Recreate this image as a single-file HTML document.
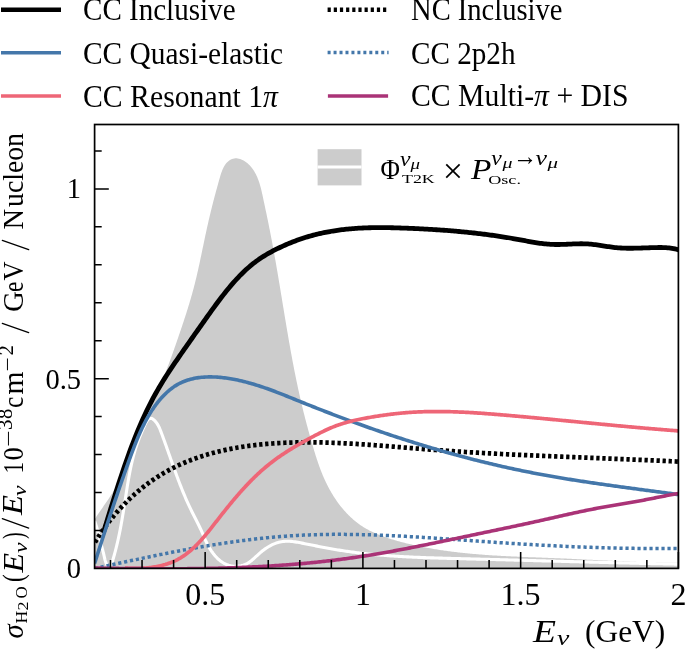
<!DOCTYPE html>
<html><head><meta charset="utf-8"><style>
html,body{margin:0;padding:0;background:#fff;}
body{width:685px;height:650px;overflow:hidden;font-family:"Liberation Serif",serif;}
svg{display:block;will-change:transform;}
</style></head><body>
<svg width="685" height="650" viewBox="0 0 685 650">
<defs><clipPath id="c"><rect x="94.6" y="124.5" width="583.8" height="443.9"/></clipPath></defs>
<g clip-path="url(#c)">
<path d="M94.54,519.46 L95.21,518.42 L95.89,517.39 L96.57,516.35 L97.26,515.32 L97.95,514.29 L98.65,513.27 L99.35,512.24 L100.06,511.22 L100.76,510.19 L101.47,509.17 L102.18,508.15 L102.89,507.13 L103.60,506.10 L104.31,505.08 L105.02,504.06 L105.73,503.04 L106.43,502.01 L107.13,500.98 L107.83,499.96 L108.52,498.92 L109.21,497.89 L109.89,496.85 L110.57,495.82 L111.24,494.77 L111.91,493.73 L112.56,492.68 L113.21,491.62 L113.85,490.56 L114.48,489.50 L115.09,488.43 L115.70,487.36 L116.30,486.28 L116.88,485.19 L117.45,484.10 L118.01,483.00 L118.55,481.89 L119.08,480.78 L119.59,479.66 L120.09,478.53 L120.58,477.40 L121.06,476.26 L121.52,475.11 L121.97,473.96 L122.41,472.80 L122.85,471.64 L123.27,470.47 L123.69,469.31 L124.10,468.13 L124.50,466.96 L124.90,465.78 L125.30,464.60 L125.69,463.42 L126.08,462.23 L126.47,461.05 L126.86,459.86 L127.24,458.67 L127.63,457.49 L128.02,456.30 L128.41,455.12 L128.81,453.93 L129.21,452.75 L129.61,451.57 L130.02,450.39 L130.43,449.22 L130.86,448.05 L131.29,446.88 L131.73,445.72 L132.17,444.56 L132.63,443.40 L133.09,442.24 L133.56,441.09 L134.03,439.94 L134.51,438.80 L135.00,437.65 L135.49,436.51 L135.99,435.38 L136.49,434.24 L137.00,433.11 L137.52,431.98 L138.04,430.85 L138.56,429.72 L139.09,428.60 L139.62,427.48 L140.15,426.35 L140.69,425.23 L141.23,424.12 L141.78,423.00 L142.33,421.88 L142.88,420.77 L143.43,419.66 L143.98,418.54 L144.54,417.43 L145.09,416.32 L145.65,415.21 L146.21,414.10 L146.77,412.99 L147.33,411.88 L147.89,410.77 L148.45,409.66 L149.01,408.55 L149.57,407.45 L150.13,406.34 L150.69,405.23 L151.24,404.12 L151.80,403.00 L152.35,401.89 L152.90,400.78 L153.45,399.67 L153.99,398.55 L154.54,397.44 L155.08,396.32 L155.61,395.20 L156.15,394.08 L156.67,392.96 L157.20,391.84 L157.72,390.71 L158.24,389.59 L158.75,388.46 L159.25,387.33 L159.76,386.19 L160.26,385.06 L160.75,383.92 L161.24,382.79 L161.73,381.65 L162.21,380.51 L162.69,379.36 L163.16,378.22 L163.63,377.08 L164.10,375.93 L164.56,374.78 L165.02,373.63 L165.48,372.48 L165.94,371.33 L166.39,370.17 L166.84,369.02 L167.28,367.86 L167.72,366.70 L168.16,365.54 L168.60,364.38 L169.04,363.22 L169.47,362.06 L169.90,360.90 L170.33,359.73 L170.76,358.57 L171.18,357.40 L171.60,356.23 L172.02,355.07 L172.44,353.90 L172.86,352.73 L173.28,351.56 L173.69,350.39 L174.10,349.22 L174.51,348.05 L174.93,346.87 L175.34,345.70 L175.74,344.53 L176.15,343.35 L176.56,342.18 L176.97,341.00 L177.37,339.83 L177.78,338.65 L178.18,337.48 L178.59,336.30 L178.99,335.12 L179.39,333.95 L179.80,332.77 L180.20,331.59 L180.60,330.41 L181.00,329.24 L181.39,328.06 L181.79,326.88 L182.19,325.70 L182.58,324.52 L182.97,323.34 L183.37,322.16 L183.76,320.98 L184.14,319.80 L184.53,318.61 L184.92,317.43 L185.30,316.25 L185.68,315.07 L186.06,313.88 L186.44,312.70 L186.81,311.51 L187.18,310.33 L187.56,309.14 L187.92,307.96 L188.29,306.77 L188.65,305.58 L189.01,304.40 L189.37,303.21 L189.73,302.02 L190.08,300.83 L190.43,299.64 L190.78,298.45 L191.12,297.26 L191.46,296.07 L191.80,294.88 L192.13,293.69 L192.46,292.49 L192.79,291.30 L193.12,290.11 L193.44,288.91 L193.76,287.72 L194.07,286.52 L194.38,285.32 L194.69,284.13 L194.99,282.93 L195.29,281.73 L195.58,280.53 L195.88,279.33 L196.16,278.13 L196.45,276.93 L196.73,275.73 L197.01,274.53 L197.29,273.32 L197.57,272.12 L197.84,270.92 L198.11,269.71 L198.38,268.50 L198.65,267.30 L198.91,266.09 L199.18,264.88 L199.44,263.67 L199.70,262.46 L199.96,261.25 L200.22,260.04 L200.47,258.82 L200.73,257.61 L200.98,256.39 L201.24,255.18 L201.49,253.96 L201.75,252.74 L202.00,251.52 L202.25,250.30 L202.51,249.08 L202.76,247.86 L203.02,246.63 L203.27,245.41 L203.53,244.18 L203.78,242.95 L204.04,241.73 L204.30,240.50 L204.55,239.27 L204.81,238.05 L205.07,236.82 L205.33,235.59 L205.60,234.37 L205.86,233.15 L206.12,231.93 L206.39,230.71 L206.65,229.49 L206.92,228.27 L207.19,227.06 L207.46,225.85 L207.73,224.65 L208.00,223.44 L208.27,222.24 L208.55,221.04 L208.82,219.85 L209.10,218.66 L209.38,217.46 L209.66,216.27 L209.94,215.08 L210.23,213.90 L210.52,212.71 L210.80,211.53 L211.09,210.34 L211.38,209.16 L211.68,207.97 L211.97,206.79 L212.27,205.60 L212.57,204.42 L212.87,203.23 L213.18,202.05 L213.48,200.86 L213.79,199.67 L214.10,198.48 L214.42,197.29 L214.73,196.09 L215.05,194.90 L215.37,193.70 L215.69,192.50 L216.02,191.29 L216.35,190.09 L216.68,188.88 L217.01,187.67 L217.35,186.45 L217.69,185.23 L218.03,184.00 L218.38,182.78 L218.72,181.54 L219.07,180.31 L219.43,179.06 L219.79,177.82 L220.15,176.57 L220.52,175.32 L220.90,174.08 L221.31,172.85 L221.73,171.63 L222.18,170.44 L222.66,169.27 L223.18,168.13 L223.73,167.03 L224.32,165.96 L224.96,164.94 L225.65,163.97 L226.40,163.05 L227.20,162.19 L228.07,161.39 L228.99,160.67 L229.96,160.02 L230.97,159.47 L232.03,159.02 L233.12,158.67 L234.24,158.44 L235.39,158.33 L236.56,158.35 L237.73,158.48 L238.92,158.72 L240.10,159.06 L241.28,159.49 L242.44,160.00 L243.58,160.59 L244.69,161.25 L245.77,161.97 L246.81,162.74 L247.80,163.56 L248.75,164.42 L249.65,165.32 L250.51,166.25 L251.33,167.22 L252.11,168.22 L252.85,169.24 L253.56,170.28 L254.22,171.34 L254.86,172.42 L255.46,173.52 L256.03,174.62 L256.57,175.73 L257.08,176.86 L257.57,178.00 L258.03,179.14 L258.46,180.29 L258.87,181.45 L259.27,182.62 L259.64,183.80 L259.99,184.98 L260.33,186.17 L260.66,187.36 L260.97,188.56 L261.27,189.76 L261.55,190.97 L261.83,192.18 L262.10,193.39 L262.37,194.61 L262.63,195.82 L262.89,197.04 L263.15,198.25 L263.41,199.47 L263.67,200.68 L263.92,201.90 L264.18,203.12 L264.44,204.33 L264.70,205.55 L264.96,206.76 L265.21,207.97 L265.47,209.19 L265.73,210.40 L265.99,211.62 L266.24,212.83 L266.50,214.05 L266.75,215.26 L267.00,216.48 L267.26,217.69 L267.51,218.91 L267.76,220.12 L268.01,221.34 L268.25,222.55 L268.50,223.77 L268.75,224.99 L268.99,226.20 L269.23,227.42 L269.47,228.64 L269.72,229.86 L269.95,231.07 L270.19,232.29 L270.43,233.51 L270.67,234.73 L270.90,235.95 L271.14,237.17 L271.37,238.39 L271.60,239.61 L271.83,240.83 L272.06,242.05 L272.29,243.27 L272.52,244.49 L272.74,245.71 L272.97,246.93 L273.19,248.15 L273.42,249.37 L273.64,250.59 L273.86,251.81 L274.09,253.03 L274.31,254.25 L274.52,255.48 L274.74,256.70 L274.96,257.92 L275.18,259.14 L275.39,260.37 L275.61,261.59 L275.82,262.81 L276.04,264.03 L276.25,265.26 L276.46,266.48 L276.67,267.70 L276.88,268.93 L277.10,270.15 L277.30,271.37 L277.51,272.60 L277.72,273.82 L277.93,275.05 L278.14,276.27 L278.34,277.49 L278.55,278.72 L278.75,279.94 L278.96,281.17 L279.16,282.39 L279.37,283.62 L279.57,284.84 L279.78,286.07 L279.98,287.29 L280.18,288.52 L280.39,289.74 L280.59,290.97 L280.79,292.19 L280.99,293.42 L281.19,294.64 L281.40,295.87 L281.60,297.09 L281.80,298.32 L282.00,299.54 L282.20,300.77 L282.40,301.99 L282.61,303.22 L282.81,304.44 L283.01,305.67 L283.21,306.89 L283.41,308.12 L283.61,309.34 L283.81,310.57 L284.02,311.79 L284.22,313.02 L284.42,314.24 L284.62,315.46 L284.83,316.69 L285.03,317.91 L285.23,319.14 L285.44,320.36 L285.64,321.59 L285.85,322.81 L286.05,324.04 L286.26,325.26 L286.46,326.48 L286.67,327.71 L286.88,328.93 L287.08,330.16 L287.29,331.38 L287.50,332.60 L287.71,333.83 L287.92,335.05 L288.13,336.27 L288.34,337.50 L288.55,338.72 L288.76,339.94 L288.98,341.17 L289.19,342.39 L289.41,343.61 L289.62,344.83 L289.84,346.05 L290.06,347.28 L290.28,348.50 L290.49,349.72 L290.71,350.94 L290.94,352.16 L291.16,353.38 L291.38,354.60 L291.61,355.82 L291.83,357.05 L292.06,358.27 L292.28,359.49 L292.51,360.71 L292.74,361.92 L292.97,363.14 L293.21,364.36 L293.44,365.58 L293.67,366.80 L293.91,368.02 L294.15,369.24 L294.39,370.46 L294.63,371.67 L294.87,372.89 L295.11,374.11 L295.36,375.32 L295.60,376.54 L295.85,377.76 L296.10,378.97 L296.35,380.19 L296.60,381.40 L296.85,382.62 L297.11,383.83 L297.37,385.05 L297.62,386.26 L297.88,387.48 L298.15,388.69 L298.41,389.90 L298.67,391.12 L298.94,392.33 L299.21,393.54 L299.48,394.75 L299.75,395.97 L300.03,397.18 L300.30,398.39 L300.58,399.60 L300.86,400.81 L301.14,402.02 L301.43,403.23 L301.71,404.44 L302.00,405.65 L302.29,406.85 L302.58,408.06 L302.88,409.27 L303.17,410.48 L303.47,411.68 L303.77,412.89 L304.07,414.09 L304.38,415.30 L304.68,416.50 L304.99,417.71 L305.30,418.91 L305.61,420.11 L305.92,421.32 L306.24,422.52 L306.56,423.72 L306.87,424.92 L307.19,426.12 L307.52,427.32 L307.84,428.52 L308.17,429.72 L308.49,430.92 L308.82,432.11 L309.15,433.31 L309.49,434.50 L309.82,435.70 L310.16,436.89 L310.50,438.09 L310.83,439.28 L311.18,440.47 L311.52,441.66 L311.86,442.85 L312.21,444.04 L312.56,445.23 L312.91,446.42 L313.26,447.61 L313.61,448.79 L313.97,449.98 L314.32,451.16 L314.68,452.35 L315.05,453.53 L315.41,454.71 L315.78,455.89 L316.16,457.07 L316.54,458.24 L316.92,459.42 L317.31,460.59 L317.70,461.76 L318.10,462.93 L318.50,464.10 L318.91,465.27 L319.33,466.43 L319.75,467.59 L320.18,468.76 L320.62,469.91 L321.06,471.07 L321.51,472.22 L321.97,473.37 L322.44,474.52 L322.92,475.67 L323.41,476.81 L323.91,477.95 L324.41,479.09 L324.93,480.22 L325.45,481.35 L325.99,482.48 L326.54,483.60 L327.09,484.73 L327.66,485.84 L328.24,486.95 L328.83,488.06 L329.43,489.16 L330.03,490.26 L330.65,491.35 L331.28,492.44 L331.92,493.52 L332.57,494.59 L333.23,495.66 L333.90,496.72 L334.58,497.78 L335.27,498.82 L335.98,499.86 L336.69,500.89 L337.41,501.91 L338.14,502.93 L338.89,503.93 L339.64,504.93 L340.41,505.91 L341.18,506.89 L341.97,507.86 L342.76,508.82 L343.57,509.76 L344.39,510.70 L345.21,511.62 L346.05,512.54 L346.90,513.44 L347.76,514.33 L348.63,515.21 L349.51,516.08 L350.40,516.93 L351.30,517.77 L352.21,518.60 L353.14,519.42 L354.07,520.22 L355.02,521.00 L355.97,521.78 L356.94,522.54 L357.91,523.28 L358.90,524.01 L359.90,524.72 L360.90,525.42 L361.92,526.10 L362.95,526.77 L363.99,527.42 L365.05,528.05 L366.11,528.67 L367.18,529.27 L368.26,529.86 L369.34,530.44 L370.44,531.00 L371.55,531.55 L372.66,532.08 L373.78,532.60 L374.91,533.11 L376.05,533.61 L377.19,534.09 L378.34,534.57 L379.49,535.03 L380.65,535.48 L381.82,535.92 L382.99,536.35 L384.16,536.78 L385.34,537.19 L386.53,537.59 L387.72,537.99 L388.91,538.38 L390.10,538.76 L391.30,539.13 L392.50,539.49 L393.70,539.85 L394.90,540.20 L396.11,540.55 L397.31,540.89 L398.52,541.23 L399.73,541.56 L400.94,541.88 L402.15,542.20 L403.35,542.52 L404.56,542.83 L405.78,543.14 L406.99,543.44 L408.20,543.74 L409.41,544.03 L410.62,544.32 L411.84,544.60 L413.05,544.88 L414.26,545.15 L415.48,545.42 L416.69,545.69 L417.91,545.95 L419.13,546.20 L420.34,546.46 L421.56,546.71 L422.78,546.95 L424.00,547.19 L425.22,547.42 L426.44,547.66 L427.66,547.88 L428.88,548.11 L430.10,548.33 L431.32,548.54 L432.54,548.76 L433.77,548.97 L434.99,549.17 L436.21,549.37 L437.44,549.57 L438.66,549.76 L439.88,549.95 L441.11,550.14 L442.34,550.32 L443.56,550.50 L444.79,550.68 L446.01,550.85 L447.24,551.02 L448.47,551.19 L449.70,551.35 L450.93,551.51 L452.15,551.67 L453.38,551.82 L454.61,551.97 L455.84,552.12 L457.07,552.27 L458.30,552.41 L459.54,552.55 L460.77,552.69 L462.00,552.82 L463.23,552.95 L464.46,553.08 L465.70,553.20 L466.93,553.33 L468.16,553.45 L469.40,553.57 L470.63,553.68 L471.86,553.80 L473.10,553.91 L474.33,554.01 L475.57,554.12 L476.80,554.22 L478.04,554.33 L479.27,554.43 L480.51,554.52 L481.75,554.62 L482.98,554.71 L484.22,554.80 L485.46,554.89 L486.70,554.98 L487.93,555.07 L489.17,555.15 L490.41,555.23 L491.65,555.31 L492.89,555.39 L494.12,555.47 L495.36,555.54 L496.60,555.62 L497.84,555.69 L499.08,555.76 L500.32,555.83 L501.56,555.90 L502.80,555.96 L504.04,556.03 L505.28,556.09 L506.52,556.16 L507.76,556.22 L509.00,556.28 L510.24,556.34 L511.48,556.40 L512.72,556.45 L513.96,556.51 L515.21,556.57 L516.45,556.62 L517.69,556.68 L518.93,556.73 L520.17,556.78 L521.41,556.83 L522.65,556.88 L523.90,556.94 L525.14,556.99 L526.38,557.04 L527.62,557.08 L528.86,557.13 L530.11,557.18 L531.35,557.23 L532.59,557.28 L533.83,557.32 L535.07,557.37 L536.32,557.42 L537.56,557.47 L538.80,557.51 L540.04,557.56 L541.28,557.61 L542.53,557.65 L543.77,557.70 L545.01,557.75 L546.25,557.80 L547.49,557.84 L548.74,557.89 L549.98,557.94 L551.22,557.99 L552.46,558.04 L553.70,558.09 L554.95,558.14 L556.19,558.19 L557.43,558.24 L558.67,558.29 L559.91,558.34 L561.15,558.39 L562.39,558.45 L563.64,558.50 L564.88,558.56 L566.12,558.61 L567.36,558.67 L568.60,558.73 L569.84,558.78 L571.08,558.84 L572.32,558.90 L573.56,558.96 L574.80,559.02 L576.04,559.08 L577.28,559.14 L578.52,559.20 L579.76,559.26 L581.00,559.32 L582.24,559.38 L583.48,559.44 L584.72,559.50 L585.96,559.56 L587.20,559.63 L588.44,559.69 L589.68,559.75 L590.92,559.81 L592.16,559.87 L593.40,559.94 L594.64,560.00 L595.88,560.06 L597.12,560.12 L598.36,560.18 L599.60,560.25 L600.84,560.31 L602.08,560.37 L603.32,560.43 L604.56,560.49 L605.79,560.55 L607.03,560.61 L608.27,560.67 L609.51,560.73 L610.75,560.79 L611.99,560.85 L613.23,560.91 L614.47,560.97 L615.71,561.02 L616.95,561.08 L618.19,561.14 L619.43,561.19 L620.67,561.25 L621.91,561.30 L623.15,561.36 L624.39,561.41 L625.63,561.46 L626.87,561.51 L628.11,561.56 L629.35,561.61 L630.59,561.66 L631.83,561.71 L633.07,561.76 L634.31,561.81 L635.55,561.85 L636.79,561.90 L638.03,561.94 L639.27,561.99 L640.51,562.03 L641.75,562.07 L642.99,562.11 L644.23,562.15 L645.47,562.18 L646.71,562.22 L647.95,562.26 L649.19,562.29 L650.43,562.32 L651.68,562.35 L652.92,562.38 L654.16,562.41 L655.40,562.44 L656.64,562.47 L657.88,562.49 L659.12,562.51 L660.37,562.54 L661.61,562.56 L662.85,562.58 L664.09,562.59 L665.33,562.61 L666.58,562.62 L667.82,562.63 L669.06,562.64 L670.31,562.65 L671.55,562.66 L672.79,562.67 L674.03,562.67 L675.28,562.67 L676.52,562.67 L677.77,562.67 L679.01,562.67 L679.01,570.40 L92.54,570.40 Z" fill="#CCCCCC"/>
<path d="M94.60,521.00 L95.06,522.26 L95.51,523.55 L95.94,524.86 L96.36,526.19 L96.76,527.54 L97.15,528.90 L97.53,530.28 L97.90,531.66 L98.26,533.04 L98.62,534.43 L98.96,535.81 L99.31,537.18 L99.65,538.55 L99.99,539.90 L100.32,541.24 L100.66,542.55 L101.00,543.84 L101.34,545.11 L101.68,546.37 L102.03,547.62 L102.37,548.90 L102.72,550.20 L103.07,551.55 L103.42,552.96 L103.77,554.44 L104.12,556.02 L104.48,557.65 L104.87,559.29 L105.30,560.88 L105.78,562.39 L106.33,563.75 L106.97,564.91 L107.70,565.82 L108.51,566.43 L109.31,566.68 L110.06,566.48 L110.70,565.83 L111.24,564.80 L111.72,563.53 L112.16,562.15 L112.59,560.76 L113.01,559.37 L113.42,557.98 L113.82,556.60 L114.21,555.21 L114.59,553.83 L114.97,552.45 L115.34,551.08 L115.69,549.70 L116.05,548.33 L116.39,546.96 L116.73,545.59 L117.05,544.22 L117.38,542.85 L117.69,541.48 L118.00,540.12 L118.30,538.75 L118.60,537.39 L118.89,536.03 L119.18,534.67 L119.46,533.31 L119.73,531.94 L120.00,530.58 L120.26,529.22 L120.53,527.86 L120.78,526.50 L121.03,525.14 L121.28,523.78 L121.52,522.42 L121.77,521.06 L122.00,519.70 L122.24,518.33 L122.47,516.97 L122.70,515.60 L122.92,514.24 L123.15,512.87 L123.37,511.51 L123.59,510.14 L123.81,508.77 L124.02,507.39 L124.24,506.02 L124.46,504.65 L124.67,503.27 L124.88,501.89 L125.10,500.51 L125.31,499.12 L125.52,497.74 L125.74,496.35 L125.95,494.96 L126.17,493.57 L126.38,492.18 L126.60,490.79 L126.82,489.40 L127.04,488.01 L127.27,486.61 L127.49,485.22 L127.72,483.83 L127.96,482.44 L128.19,481.04 L128.43,479.66 L128.68,478.27 L128.92,476.88 L129.18,475.49 L129.43,474.11 L129.69,472.73 L129.96,471.35 L130.23,469.98 L130.51,468.60 L130.80,467.24 L131.09,465.87 L131.39,464.51 L131.69,463.15 L132.00,461.80 L132.32,460.45 L132.65,459.10 L132.98,457.76 L133.33,456.43 L133.68,455.10 L134.04,453.77 L134.41,452.46 L134.79,451.15 L135.17,449.84 L135.57,448.54 L135.98,447.25 L136.40,445.97 L136.83,444.69 L137.27,443.41 L137.72,442.14 L138.19,440.87 L138.67,439.59 L139.16,438.31 L139.67,437.02 L140.19,435.72 L140.73,434.40 L141.28,433.07 L141.85,431.72 L142.44,430.35 L143.04,428.95 L143.67,427.53 L144.31,426.08 L144.97,424.62 L145.67,423.20 L146.39,421.87 L147.15,420.68 L147.94,419.67 L148.79,418.89 L149.68,418.40 L150.62,418.25 L151.62,418.44 L152.64,418.92 L153.67,419.66 L154.69,420.60 L155.66,421.69 L156.58,422.88 L157.41,424.13 L158.16,425.39 L158.83,426.66 L159.43,427.95 L159.99,429.25 L160.51,430.55 L161.01,431.86 L161.50,433.17 L161.99,434.49 L162.47,435.80 L162.95,437.11 L163.43,438.42 L163.91,439.74 L164.38,441.05 L164.86,442.37 L165.33,443.68 L165.80,445.00 L166.27,446.31 L166.73,447.63 L167.20,448.94 L167.66,450.26 L168.13,451.57 L168.59,452.89 L169.05,454.20 L169.51,455.52 L169.98,456.84 L170.44,458.15 L170.90,459.46 L171.37,460.78 L171.83,462.09 L172.30,463.41 L172.76,464.72 L173.23,466.03 L173.70,467.34 L174.17,468.65 L174.64,469.97 L175.11,471.27 L175.59,472.58 L176.07,473.89 L176.55,475.20 L177.03,476.50 L177.52,477.81 L178.01,479.11 L178.50,480.42 L178.99,481.72 L179.49,483.02 L179.99,484.32 L180.50,485.61 L181.01,486.91 L181.52,488.21 L182.04,489.50 L182.57,490.79 L183.09,492.08 L183.63,493.37 L184.16,494.66 L184.71,495.94 L185.25,497.23 L185.81,498.51 L186.37,499.79 L186.93,501.06 L187.51,502.34 L188.08,503.61 L188.67,504.88 L189.26,506.15 L189.86,507.42 L190.46,508.68 L191.07,509.95 L191.69,511.21 L192.32,512.46 L192.95,513.72 L193.59,514.97 L194.23,516.23 L194.87,517.48 L195.51,518.73 L196.14,519.98 L196.78,521.22 L197.41,522.47 L198.03,523.72 L198.65,524.97 L199.26,526.22 L199.85,527.47 L200.44,528.72 L201.01,529.98 L201.56,531.23 L202.11,532.49 L202.65,533.75 L203.19,535.00 L203.73,536.26 L204.27,537.51 L204.82,538.77 L205.38,540.02 L205.96,541.27 L206.55,542.51 L207.16,543.76 L207.80,544.99 L208.47,546.23 L209.16,547.46 L209.89,548.68 L210.66,549.89 L211.45,551.09 L212.29,552.27 L213.15,553.44 L214.05,554.57 L214.98,555.68 L215.94,556.75 L216.94,557.79 L217.97,558.79 L219.02,559.74 L220.11,560.64 L221.24,561.49 L222.39,562.29 L223.57,563.02 L224.78,563.69 L226.02,564.29 L227.29,564.81 L228.59,565.26 L229.91,565.63 L231.27,565.92 L232.64,566.13 L234.03,566.25 L235.43,566.29 L236.83,566.26 L238.23,566.15 L239.62,565.96 L241.00,565.70 L242.36,565.36 L243.69,564.95 L245.00,564.46 L246.26,563.91 L247.49,563.29 L248.66,562.59 L249.80,561.84 L250.90,561.03 L251.97,560.18 L253.02,559.29 L254.06,558.37 L255.08,557.43 L256.11,556.47 L257.14,555.51 L258.18,554.54 L259.24,553.59 L260.32,552.65 L261.43,551.73 L262.56,550.83 L263.71,549.95 L264.87,549.10 L266.06,548.28 L267.27,547.49 L268.49,546.74 L269.73,546.02 L270.98,545.34 L272.25,544.71 L273.53,544.12 L274.83,543.58 L276.13,543.09 L277.45,542.65 L278.77,542.27 L280.10,541.95 L281.44,541.69 L282.79,541.49 L284.14,541.35 L285.50,541.27 L286.86,541.24 L288.23,541.25 L289.60,541.31 L290.98,541.40 L292.35,541.54 L293.73,541.70 L295.11,541.89 L296.50,542.10 L297.88,542.34 L299.27,542.59 L300.65,542.85 L302.03,543.12 L303.42,543.39 L304.80,543.66 L306.18,543.93 L307.56,544.21 L308.93,544.48 L310.31,544.76 L311.69,545.03 L313.06,545.31 L314.44,545.58 L315.81,545.86 L317.18,546.13 L318.55,546.40 L319.93,546.67 L321.30,546.94 L322.67,547.20 L324.04,547.46 L325.41,547.73 L326.78,547.98 L328.15,548.24 L329.52,548.49 L330.90,548.74 L332.27,548.98 L333.64,549.22 L335.01,549.46 L336.39,549.69 L337.76,549.92 L339.13,550.14 L340.51,550.36 L341.89,550.58 L343.26,550.79 L344.64,550.99 L346.02,551.20 L347.39,551.39 L348.77,551.59 L350.15,551.78 L351.53,551.97 L352.91,552.15 L354.29,552.33 L355.67,552.51 L357.05,552.68 L358.43,552.85 L359.82,553.01 L361.20,553.17 L362.58,553.33 L363.97,553.48 L365.35,553.64 L366.73,553.78 L368.12,553.93 L369.50,554.07 L370.89,554.21 L372.28,554.34 L373.66,554.47 L375.05,554.60 L376.44,554.73 L377.82,554.85 L379.21,554.97 L380.60,555.09 L381.99,555.20 L383.38,555.32 L384.77,555.42 L386.16,555.53 L387.55,555.63 L388.94,555.74 L390.33,555.83 L391.72,555.93 L393.11,556.02 L394.50,556.12 L395.89,556.21 L397.28,556.29 L398.68,556.38 L400.07,556.46 L401.46,556.54 L402.86,556.62 L404.25,556.70 L405.64,556.77 L407.04,556.84 L408.43,556.91 L409.82,556.98 L411.22,557.05 L412.61,557.11 L414.01,557.18 L415.40,557.24 L416.80,557.30 L418.19,557.36 L419.59,557.42 L420.98,557.47 L422.38,557.53 L423.77,557.58 L425.17,557.63 L426.57,557.68 L427.96,557.73 L429.36,557.78 L430.75,557.83 L432.15,557.87 L433.55,557.92 L434.94,557.96 L436.34,558.01 L437.74,558.05 L439.13,558.09 L440.53,558.13 L441.93,558.17 L443.32,558.21 L444.72,558.25 L446.12,558.29 L447.51,558.33 L448.91,558.37 L450.31,558.40 L451.70,558.44 L453.10,558.48 L454.50,558.51 L455.89,558.55 L457.29,558.58 L458.69,558.62 L460.08,558.65 L461.48,558.69 L462.88,558.72 L464.27,558.76 L465.67,558.79 L467.06,558.83 L468.46,558.87 L469.86,558.90 L471.25,558.94 L472.65,558.97 L474.04,559.01 L475.44,559.05 L476.83,559.08 L478.23,559.12 L479.63,559.15 L481.02,559.19 L482.42,559.23 L483.81,559.26 L485.21,559.30 L486.60,559.34 L488.00,559.37 L489.39,559.41 L490.79,559.45 L492.18,559.48 L493.58,559.52 L494.97,559.56 L496.36,559.59 L497.76,559.63 L499.15,559.67 L500.55,559.70 L501.94,559.74 L503.34,559.78 L504.73,559.82 L506.13,559.85 L507.52,559.89 L508.91,559.93 L510.31,559.97 L511.70,560.00 L513.10,560.04 L514.49,560.08 L515.88,560.12 L517.28,560.15 L518.67,560.19 L520.07,560.23 L521.46,560.27 L522.85,560.30 L524.25,560.34 L525.64,560.38 L527.03,560.42 L528.43,560.45 L529.82,560.49 L531.21,560.53 L532.61,560.57 L534.00,560.60 L535.39,560.64 L536.79,560.68 L538.18,560.72 L539.57,560.75 L540.97,560.79 L542.36,560.83 L543.75,560.87 L545.15,560.91 L546.54,560.94 L547.93,560.98 L549.33,561.02 L550.72,561.06 L552.11,561.09 L553.51,561.13 L554.90,561.17 L556.29,561.20 L557.69,561.24 L559.08,561.28 L560.47,561.32 L561.87,561.35 L563.26,561.39 L564.65,561.43 L566.05,561.47 L567.44,561.50 L568.83,561.54 L570.23,561.58 L571.62,561.61 L573.01,561.65 L574.41,561.69 L575.80,561.72 L577.19,561.76 L578.59,561.80 L579.98,561.83 L581.37,561.87 L582.77,561.91 L584.16,561.94 L585.55,561.98 L586.95,562.02 L588.34,562.05 L589.73,562.09 L591.13,562.12 L592.52,562.16 L593.91,562.20 L595.31,562.23 L596.70,562.27 L598.10,562.30 L599.49,562.34 L600.88,562.37 L602.28,562.41 L603.67,562.45 L605.06,562.48 L606.46,562.52 L607.85,562.55 L609.25,562.59 L610.64,562.62 L612.03,562.66 L613.43,562.69 L614.82,562.72 L616.22,562.76 L617.61,562.79 L619.00,562.83 L620.40,562.86 L621.79,562.90 L623.19,562.93 L624.58,562.96 L625.98,563.00 L627.37,563.03 L628.77,563.06 L630.16,563.10 L631.56,563.13 L632.95,563.16 L634.35,563.20 L635.74,563.23 L637.14,563.26 L638.53,563.29 L639.93,563.33 L641.32,563.36 L642.72,563.39 L644.11,563.42 L645.51,563.45 L646.90,563.48 L648.30,563.52 L649.69,563.55 L651.09,563.58 L652.49,563.61 L653.88,563.64 L655.28,563.67 L656.67,563.70 L658.07,563.73 L659.47,563.76 L660.86,563.79 L662.26,563.82 L663.65,563.85 L665.05,563.88 L666.45,563.91 L667.85,563.94 L669.24,563.97 L670.64,564.00 L672.04,564.03 L673.43,564.05 L674.83,564.08 L676.23,564.11 L677.63,564.14 L679.02,564.17" fill="none" stroke="#fff" stroke-width="3.1" stroke-linejoin="round"/>
<path d="M103.30,532.79 L104.80,527.96 L106.30,523.11 L107.80,518.26 L109.30,513.40 L110.80,508.56 L112.30,503.73 L113.80,498.93 L115.30,494.17 L116.80,489.45 L118.31,484.78 L119.81,480.17 L121.31,475.64 L122.81,471.17 L124.31,466.77 L125.81,462.45 L127.31,458.20 L128.81,454.03 L130.31,449.93 L131.81,445.92 L133.31,441.99 L134.81,438.14 L136.31,434.38 L137.81,430.70 L139.31,427.11 L140.81,423.61 L142.31,420.20 L143.81,416.88 L145.31,413.65 L146.82,410.51 L148.32,407.44 L149.82,404.46 L151.32,401.55 L152.82,398.72 L154.32,395.95 L155.82,393.24 L157.32,390.59 L158.82,388.01 L160.32,385.47 L161.82,382.98 L163.32,380.54 L164.82,378.14 L166.32,375.78 L167.82,373.46 L169.32,371.16 L170.82,368.89 L172.32,366.65 L173.82,364.42 L175.32,362.22 L176.83,360.02 L178.33,357.84 L179.83,355.66 L181.33,353.50 L182.83,351.34 L184.33,349.18 L185.83,347.04 L187.33,344.90 L188.83,342.76 L190.33,340.63 L191.83,338.50 L193.33,336.37 L194.83,334.24 L196.33,332.12 L197.83,330.00 L199.33,327.87 L200.83,325.75 L202.33,323.62 L203.83,321.50 L205.34,319.38 L206.84,317.26 L208.34,315.15 L209.84,313.05 L211.34,310.96 L212.84,308.89 L214.34,306.83 L215.84,304.78 L217.34,302.75 L218.84,300.74 L220.34,298.76 L221.84,296.80 L223.34,294.86 L224.84,292.95 L226.34,291.07 L227.84,289.22 L229.34,287.41 L230.84,285.62 L232.34,283.88 L233.85,282.17 L235.35,280.50 L236.85,278.87 L238.35,277.27 L239.85,275.71 L241.35,274.20 L242.85,272.72 L244.35,271.27 L245.85,269.87 L247.35,268.51 L248.85,267.19 L250.35,265.91 L251.85,264.66 L253.35,263.46 L254.85,262.30 L256.35,261.18 L257.85,260.10 L259.35,259.05 L260.85,258.04 L262.36,257.06 L263.86,256.12 L265.36,255.20 L266.86,254.31 L268.36,253.45 L269.86,252.61 L271.36,251.79 L272.86,250.99 L274.36,250.22 L275.86,249.46 L277.36,248.71 L278.86,247.98 L280.36,247.27 L281.86,246.56 L283.36,245.88 L284.86,245.21 L286.36,244.55 L287.86,243.90 L289.36,243.27 L290.86,242.66 L292.37,242.06 L293.87,241.47 L295.37,240.90 L296.87,240.34 L298.37,239.80 L299.87,239.27 L301.37,238.76 L302.87,238.26 L304.37,237.78 L305.87,237.31 L307.37,236.85 L308.87,236.40 L310.37,235.97 L311.87,235.56 L313.37,235.15 L314.87,234.76 L316.37,234.38 L317.87,234.02 L319.37,233.66 L320.88,233.32 L322.38,232.99 L323.88,232.68 L325.38,232.37 L326.88,232.08 L328.38,231.79 L329.88,231.52 L331.38,231.26 L332.88,231.01 L334.38,230.77 L335.88,230.54 L337.38,230.32 L338.88,230.12 L340.38,229.92 L341.88,229.73 L343.38,229.55 L344.88,229.38 L346.38,229.22 L347.88,229.06 L349.39,228.92 L350.89,228.78 L352.39,228.66 L353.89,228.54 L355.39,228.43 L356.89,228.33 L358.39,228.23 L359.89,228.14 L361.39,228.06 L362.89,227.99 L364.39,227.93 L365.89,227.87 L367.39,227.82 L368.89,227.77 L370.39,227.73 L371.89,227.70 L373.39,227.67 L374.89,227.65 L376.39,227.63 L377.90,227.62 L379.40,227.62 L380.90,227.61 L382.40,227.62 L383.90,227.63 L385.40,227.64 L386.90,227.66 L388.40,227.68 L389.90,227.71 L391.40,227.74 L392.90,227.77 L394.40,227.81 L395.90,227.85 L397.40,227.89 L398.90,227.93 L400.40,227.98 L401.90,228.03 L403.40,228.09 L404.90,228.14 L406.40,228.20 L407.91,228.26 L409.41,228.32 L410.91,228.38 L412.41,228.45 L413.91,228.51 L415.41,228.58 L416.91,228.65 L418.41,228.72 L419.91,228.79 L421.41,228.87 L422.91,228.95 L424.41,229.03 L425.91,229.11 L427.41,229.19 L428.91,229.28 L430.41,229.37 L431.91,229.46 L433.41,229.55 L434.91,229.64 L436.42,229.74 L437.92,229.84 L439.42,229.94 L440.92,230.04 L442.42,230.15 L443.92,230.26 L445.42,230.37 L446.92,230.48 L448.42,230.60 L449.92,230.72 L451.42,230.84 L452.92,230.96 L454.42,231.09 L455.92,231.22 L457.42,231.35 L458.92,231.49 L460.42,231.63 L461.92,231.77 L463.42,231.91 L464.93,232.06 L466.43,232.21 L467.93,232.36 L469.43,232.52 L470.93,232.68 L472.43,232.84 L473.93,233.00 L475.43,233.17 L476.93,233.34 L478.43,233.52 L479.93,233.70 L481.43,233.88 L482.93,234.06 L484.43,234.25 L485.93,234.44 L487.43,234.64 L488.93,234.84 L490.43,235.04 L491.93,235.25 L493.44,235.45 L494.94,235.67 L496.44,235.88 L497.94,236.10 L499.44,236.33 L500.94,236.56 L502.44,236.79 L503.94,237.02 L505.44,237.26 L506.94,237.51 L508.44,237.75 L509.94,238.00 L511.44,238.26 L512.94,238.52 L514.44,238.78 L515.94,239.05 L517.44,239.32 L518.94,239.60 L520.44,239.88 L521.94,240.16 L523.45,240.44 L524.95,240.72 L526.45,241.00 L527.95,241.28 L529.45,241.55 L530.95,241.82 L532.45,242.08 L533.95,242.33 L535.45,242.58 L536.95,242.82 L538.45,243.04 L539.95,243.26 L541.45,243.46 L542.95,243.64 L544.45,243.81 L545.95,243.97 L547.45,244.11 L548.95,244.23 L550.45,244.32 L551.96,244.40 L553.46,244.46 L554.96,244.49 L556.46,244.50 L557.96,244.50 L559.46,244.48 L560.96,244.45 L562.46,244.41 L563.96,244.36 L565.46,244.30 L566.96,244.23 L568.46,244.17 L569.96,244.10 L571.46,244.03 L572.96,243.97 L574.46,243.91 L575.96,243.86 L577.46,243.82 L578.96,243.79 L580.47,243.77 L581.97,243.77 L583.47,243.79 L584.97,243.83 L586.47,243.89 L587.97,243.97 L589.47,244.08 L590.97,244.21 L592.47,244.36 L593.97,244.53 L595.47,244.72 L596.97,244.92 L598.47,245.13 L599.97,245.35 L601.47,245.58 L602.97,245.81 L604.47,246.04 L605.97,246.28 L607.47,246.51 L608.98,246.74 L610.48,246.96 L611.98,247.16 L613.48,247.35 L614.98,247.52 L616.48,247.68 L617.98,247.81 L619.48,247.92 L620.98,248.01 L622.48,248.09 L623.98,248.15 L625.48,248.20 L626.98,248.23 L628.48,248.25 L629.98,248.26 L631.48,248.25 L632.98,248.24 L634.48,248.22 L635.98,248.19 L637.48,248.15 L638.99,248.11 L640.49,248.07 L641.99,248.01 L643.49,247.96 L644.99,247.91 L646.49,247.85 L647.99,247.80 L649.49,247.75 L650.99,247.70 L652.49,247.65 L653.99,247.61 L655.49,247.57 L656.99,247.54 L658.49,247.52 L659.99,247.51 L661.49,247.52 L662.99,247.54 L664.49,247.59 L665.99,247.66 L667.50,247.77 L669.00,247.91 L670.50,248.09 L672.00,248.31 L673.50,248.57 L675.00,248.89 L676.50,249.25 L678.00,249.68 L679.50,250.16 L681.00,250.71" fill="none" stroke="#000" stroke-width="4.8" stroke-linejoin="round"/>
<path d="M94.95,542.38 L95.61,541.29 L96.28,540.20 L96.95,539.12 L97.63,538.04 L98.31,536.97 L99.00,535.90 L99.70,534.83 L100.40,533.77 L101.11,532.71 L101.83,531.66 L102.55,530.61 L103.28,529.57 L104.01,528.53 L104.75,527.50 L105.50,526.47 L106.25,525.44 L107.01,524.42 L107.77,523.41 L108.54,522.40 L109.32,521.39 L110.10,520.39 L110.89,519.40 L111.68,518.41 L112.48,517.42 L113.29,516.45 L114.10,515.47 L114.91,514.50 L115.74,513.54 L116.56,512.58 L117.39,511.63 L118.23,510.68 L119.08,509.74 L119.92,508.81 L120.78,507.88 L121.64,506.95 L122.50,506.03 L123.37,505.12 L124.25,504.22 L125.13,503.32 L126.01,502.42 L126.90,501.53 L127.80,500.65 L128.70,499.78 L129.61,498.91 L130.52,498.04 L131.43,497.19 L132.35,496.33 L133.28,495.49 L134.21,494.65 L135.14,493.82 L136.08,493.00 L137.03,492.18 L137.97,491.37 L138.93,490.57 L139.89,489.77 L140.85,488.98 L141.82,488.19 L142.79,487.42 L143.76,486.65 L144.74,485.89 L145.73,485.13 L146.72,484.38 L147.71,483.64 L148.71,482.91 L149.71,482.18 L150.72,481.46 L151.73,480.75 L152.74,480.05 L153.76,479.35 L154.78,478.66 L155.81,477.98 L156.84,477.31 L157.87,476.65 L158.91,475.99 L159.96,475.34 L161.00,474.70 L162.05,474.06 L163.10,473.44 L164.16,472.82 L165.22,472.21 L166.29,471.61 L167.36,471.01 L168.43,470.42 L169.50,469.85 L170.58,469.27 L171.66,468.71 L172.75,468.15 L173.84,467.60 L174.93,467.06 L176.03,466.53 L177.13,466.00 L178.23,465.48 L179.33,464.97 L180.44,464.46 L181.56,463.96 L182.67,463.47 L183.79,462.98 L184.91,462.51 L186.03,462.04 L187.16,461.57 L188.29,461.12 L189.42,460.67 L190.56,460.22 L191.70,459.79 L192.84,459.36 L193.98,458.93 L195.13,458.52 L196.28,458.10 L197.43,457.70 L198.58,457.30 L199.74,456.91 L200.90,456.53 L202.06,456.15 L203.23,455.78 L204.39,455.41 L205.56,455.05 L206.74,454.70 L207.91,454.35 L209.09,454.01 L210.26,453.67 L211.44,453.35 L212.63,453.02 L213.81,452.70 L215.00,452.39 L216.19,452.09 L217.38,451.79 L218.57,451.49 L219.77,451.20 L220.96,450.92 L222.16,450.64 L223.36,450.37 L224.56,450.10 L225.77,449.84 L226.97,449.58 L228.18,449.33 L229.39,449.09 L230.60,448.85 L231.81,448.61 L233.02,448.38 L234.24,448.16 L235.45,447.94 L236.67,447.72 L237.89,447.51 L239.11,447.31 L240.33,447.11 L241.56,446.91 L242.78,446.72 L244.01,446.54 L245.23,446.35 L246.46,446.18 L247.69,446.01 L248.92,445.84 L250.15,445.68 L251.38,445.52 L252.61,445.36 L253.85,445.21 L255.08,445.07 L256.32,444.93 L257.55,444.79 L258.79,444.66 L260.03,444.53 L261.27,444.41 L262.50,444.29 L263.74,444.17 L264.98,444.06 L266.22,443.95 L267.47,443.85 L268.71,443.75 L269.95,443.65 L271.19,443.56 L272.43,443.47 L273.68,443.38 L274.92,443.30 L276.16,443.22 L277.41,443.15 L278.65,443.07 L279.89,443.01 L281.14,442.94 L282.38,442.88 L283.63,442.82 L284.87,442.77 L286.11,442.72 L287.36,442.67 L288.60,442.62 L289.84,442.58 L291.09,442.54 L292.33,442.51 L293.57,442.47 L294.82,442.44 L296.06,442.42 L297.30,442.39 L298.55,442.37 L299.79,442.35 L301.03,442.34 L302.27,442.32 L303.51,442.31 L304.76,442.31 L306.00,442.30 L307.24,442.30 L308.48,442.30 L309.72,442.30 L310.96,442.31 L312.20,442.31 L313.44,442.32 L314.69,442.34 L315.93,442.35 L317.17,442.37 L318.41,442.39 L319.65,442.41 L320.89,442.44 L322.13,442.46 L323.37,442.49 L324.61,442.52 L325.85,442.55 L327.09,442.59 L328.33,442.63 L329.56,442.67 L330.80,442.71 L332.04,442.75 L333.28,442.79 L334.52,442.84 L335.76,442.89 L337.00,442.94 L338.24,442.99 L339.48,443.05 L340.71,443.10 L341.95,443.16 L343.19,443.22 L344.43,443.28 L345.67,443.34 L346.90,443.41 L348.14,443.47 L349.38,443.54 L350.62,443.61 L351.86,443.68 L353.09,443.75 L354.33,443.82 L355.57,443.90 L356.80,443.97 L358.04,444.05 L359.28,444.13 L360.52,444.21 L361.75,444.29 L362.99,444.37 L364.23,444.45 L365.46,444.53 L366.70,444.62 L367.94,444.70 L369.17,444.79 L370.41,444.88 L371.65,444.97 L372.88,445.06 L374.12,445.15 L375.36,445.24 L376.59,445.33 L377.83,445.42 L379.07,445.51 L380.30,445.61 L381.54,445.70 L382.77,445.80 L384.01,445.89 L385.25,445.99 L386.48,446.09 L387.72,446.18 L388.95,446.28 L390.19,446.38 L391.42,446.48 L392.66,446.58 L393.90,446.68 L395.13,446.78 L396.37,446.87 L397.60,446.97 L398.84,447.07 L400.07,447.17 L401.31,447.28 L402.55,447.38 L403.78,447.48 L405.02,447.58 L406.25,447.68 L407.49,447.78 L408.72,447.88 L409.96,447.98 L411.19,448.08 L412.43,448.18 L413.67,448.28 L414.90,448.38 L416.14,448.48 L417.37,448.57 L418.61,448.67 L419.84,448.77 L421.08,448.87 L422.31,448.97 L423.55,449.06 L424.78,449.16 L426.02,449.25 L427.26,449.35 L428.49,449.44 L429.73,449.54 L430.96,449.63 L432.20,449.72 L433.43,449.82 L434.67,449.91 L435.90,450.00 L437.14,450.09 L438.38,450.18 L439.61,450.26 L440.85,450.35 L442.08,450.44 L443.32,450.53 L444.55,450.61 L445.79,450.70 L447.03,450.78 L448.26,450.87 L449.50,450.95 L450.73,451.03 L451.97,451.12 L453.20,451.20 L454.44,451.28 L455.68,451.36 L456.91,451.44 L458.15,451.52 L459.38,451.60 L460.62,451.68 L461.86,451.75 L463.09,451.83 L464.33,451.91 L465.56,451.98 L466.80,452.06 L468.04,452.13 L469.27,452.21 L470.51,452.28 L471.74,452.36 L472.98,452.43 L474.22,452.50 L475.45,452.57 L476.69,452.65 L477.92,452.72 L479.16,452.79 L480.40,452.86 L481.63,452.93 L482.87,453.00 L484.11,453.07 L485.34,453.13 L486.58,453.20 L487.81,453.27 L489.05,453.34 L490.29,453.40 L491.52,453.47 L492.76,453.53 L494.00,453.60 L495.23,453.66 L496.47,453.73 L497.71,453.79 L498.94,453.86 L500.18,453.92 L501.41,453.98 L502.65,454.05 L503.89,454.11 L505.12,454.17 L506.36,454.23 L507.60,454.29 L508.83,454.35 L510.07,454.41 L511.31,454.47 L512.54,454.53 L513.78,454.59 L515.02,454.65 L516.25,454.71 L517.49,454.77 L518.73,454.83 L519.96,454.88 L521.20,454.94 L522.44,455.00 L523.67,455.05 L524.91,455.11 L526.15,455.17 L527.38,455.22 L528.62,455.28 L529.86,455.33 L531.09,455.39 L532.33,455.44 L533.57,455.50 L534.81,455.55 L536.04,455.61 L537.28,455.66 L538.52,455.72 L539.75,455.77 L540.99,455.82 L542.23,455.88 L543.46,455.93 L544.70,455.98 L545.94,456.03 L547.18,456.09 L548.41,456.14 L549.65,456.19 L550.89,456.24 L552.12,456.29 L553.36,456.34 L554.60,456.40 L555.84,456.45 L557.07,456.50 L558.31,456.55 L559.55,456.60 L560.78,456.65 L562.02,456.70 L563.26,456.75 L564.50,456.80 L565.73,456.85 L566.97,456.90 L568.21,456.95 L569.45,457.00 L570.68,457.05 L571.92,457.10 L573.16,457.15 L574.40,457.20 L575.63,457.25 L576.87,457.30 L578.11,457.35 L579.35,457.39 L580.58,457.44 L581.82,457.49 L583.06,457.54 L584.30,457.59 L585.53,457.64 L586.77,457.69 L588.01,457.74 L589.25,457.79 L590.48,457.83 L591.72,457.88 L592.96,457.93 L594.20,457.98 L595.44,458.03 L596.67,458.08 L597.91,458.13 L599.15,458.18 L600.39,458.23 L601.62,458.27 L602.86,458.32 L604.10,458.37 L605.34,458.42 L606.58,458.47 L607.81,458.52 L609.05,458.57 L610.29,458.62 L611.53,458.67 L612.77,458.72 L614.00,458.77 L615.24,458.82 L616.48,458.87 L617.72,458.92 L618.96,458.97 L620.19,459.02 L621.43,459.07 L622.67,459.12 L623.91,459.17 L625.15,459.22 L626.39,459.27 L627.62,459.32 L628.86,459.37 L630.10,459.42 L631.34,459.48 L632.58,459.53 L633.82,459.58 L635.05,459.63 L636.29,459.68 L637.53,459.74 L638.77,459.79 L640.01,459.84 L641.25,459.89 L642.48,459.95 L643.72,460.00 L644.96,460.05 L646.20,460.11 L647.44,460.16 L648.68,460.22 L649.92,460.27 L651.15,460.33 L652.39,460.38 L653.63,460.44 L654.87,460.49 L656.11,460.55 L657.35,460.60 L658.59,460.66 L659.82,460.72 L661.06,460.77 L662.30,460.83 L663.54,460.89 L664.78,460.95 L666.02,461.01 L667.26,461.06 L668.50,461.12 L669.73,461.18 L670.97,461.24 L672.21,461.30 L673.45,461.36 L674.69,461.42 L675.93,461.48 L677.17,461.54 L678.41,461.61" fill="none" stroke="#000" stroke-width="4.7" stroke-dasharray="3.3 2.73"/>
<path d="M94.56,563.49 L95.02,562.06 L95.48,560.63 L95.93,559.21 L96.39,557.79 L96.84,556.38 L97.29,554.97 L97.74,553.56 L98.19,552.15 L98.64,550.75 L99.09,549.35 L99.54,547.96 L99.99,546.57 L100.44,545.18 L100.88,543.79 L101.33,542.41 L101.77,541.03 L102.22,539.65 L102.66,538.27 L103.11,536.90 L103.55,535.53 L103.99,534.16 L104.44,532.79 L104.88,531.43 L105.32,530.06 L105.77,528.70 L106.21,527.35 L106.65,525.99 L107.09,524.63 L107.54,523.28 L107.98,521.93 L108.42,520.58 L108.87,519.23 L109.31,517.88 L109.75,516.53 L110.20,515.19 L110.64,513.84 L111.09,512.50 L111.53,511.15 L111.98,509.81 L112.43,508.47 L112.88,507.13 L113.32,505.79 L113.77,504.44 L114.22,503.10 L114.67,501.76 L115.12,500.42 L115.58,499.08 L116.03,497.74 L116.48,496.40 L116.94,495.06 L117.40,493.72 L117.85,492.38 L118.31,491.04 L118.77,489.70 L119.23,488.35 L119.69,487.01 L120.16,485.67 L120.62,484.32 L121.09,482.97 L121.56,481.63 L122.03,480.28 L122.50,478.93 L122.97,477.58 L123.45,476.23 L123.92,474.87 L124.40,473.52 L124.88,472.16 L125.36,470.80 L125.85,469.44 L126.33,468.07 L126.82,466.71 L127.31,465.34 L127.80,463.97 L128.29,462.60 L128.79,461.23 L129.29,459.85 L129.79,458.47 L130.29,457.09 L130.80,455.71 L131.31,454.33 L131.82,452.94 L132.33,451.56 L132.86,450.17 L133.38,448.79 L133.91,447.40 L134.45,446.02 L134.99,444.64 L135.53,443.26 L136.09,441.88 L136.64,440.50 L137.21,439.13 L137.78,437.76 L138.36,436.40 L138.95,435.03 L139.54,433.68 L140.14,432.32 L140.76,430.97 L141.38,429.63 L142.00,428.29 L142.64,426.96 L143.29,425.64 L143.95,424.32 L144.61,423.01 L145.29,421.71 L145.98,420.41 L146.68,419.12 L147.39,417.84 L148.12,416.58 L148.85,415.32 L149.60,414.07 L150.36,412.83 L151.13,411.60 L151.92,410.38 L152.72,409.17 L153.53,407.98 L154.36,406.79 L155.20,405.62 L156.06,404.46 L156.93,403.32 L157.82,402.19 L158.72,401.07 L159.64,399.96 L160.58,398.88 L161.53,397.80 L162.50,396.75 L163.48,395.71 L164.48,394.69 L165.49,393.70 L166.52,392.72 L167.57,391.77 L168.63,390.84 L169.71,389.94 L170.81,389.07 L171.92,388.22 L173.05,387.40 L174.19,386.61 L175.35,385.85 L176.53,385.12 L177.72,384.42 L178.93,383.76 L180.15,383.13 L181.39,382.54 L182.64,381.98 L183.91,381.45 L185.19,380.96 L186.49,380.50 L187.79,380.06 L189.11,379.66 L190.45,379.29 L191.79,378.95 L193.14,378.63 L194.51,378.35 L195.88,378.09 L197.27,377.86 L198.66,377.65 L200.06,377.48 L201.47,377.32 L202.88,377.19 L204.30,377.09 L205.73,377.01 L207.16,376.95 L208.60,376.92 L210.05,376.91 L211.50,376.92 L212.95,376.95 L214.40,377.00 L215.86,377.07 L217.32,377.16 L218.78,377.26 L220.24,377.39 L221.71,377.53 L223.17,377.69 L224.63,377.87 L226.09,378.06 L227.55,378.27 L229.01,378.50 L230.47,378.73 L231.92,378.98 L233.37,379.25 L234.82,379.52 L236.26,379.81 L237.70,380.11 L239.13,380.42 L240.56,380.74 L241.98,381.08 L243.40,381.42 L244.81,381.77 L246.22,382.13 L247.63,382.51 L249.03,382.89 L250.43,383.28 L251.82,383.68 L253.21,384.08 L254.60,384.50 L255.98,384.92 L257.36,385.35 L258.74,385.79 L260.11,386.24 L261.48,386.69 L262.85,387.15 L264.21,387.62 L265.58,388.09 L266.94,388.57 L268.30,389.05 L269.65,389.54 L271.00,390.03 L272.35,390.53 L273.70,391.04 L275.05,391.55 L276.40,392.06 L277.74,392.57 L279.08,393.09 L280.42,393.61 L281.76,394.14 L283.10,394.67 L284.44,395.20 L285.78,395.73 L287.11,396.27 L288.45,396.80 L289.78,397.34 L291.12,397.88 L292.45,398.42 L293.78,398.96 L295.12,399.50 L296.45,400.05 L297.79,400.59 L299.12,401.13 L300.45,401.67 L301.79,402.21 L303.12,402.75 L304.46,403.28 L305.79,403.82 L307.13,404.36 L308.47,404.89 L309.81,405.42 L311.14,405.95 L312.48,406.49 L313.82,407.02 L315.16,407.54 L316.50,408.07 L317.84,408.60 L319.18,409.12 L320.53,409.65 L321.87,410.17 L323.21,410.69 L324.55,411.21 L325.90,411.73 L327.24,412.25 L328.59,412.77 L329.93,413.28 L331.28,413.80 L332.62,414.31 L333.97,414.82 L335.32,415.34 L336.67,415.85 L338.02,416.35 L339.36,416.86 L340.71,417.37 L342.06,417.87 L343.41,418.38 L344.76,418.88 L346.12,419.38 L347.47,419.88 L348.82,420.38 L350.17,420.88 L351.53,421.37 L352.88,421.87 L354.23,422.36 L355.59,422.85 L356.94,423.35 L358.30,423.84 L359.66,424.32 L361.01,424.81 L362.37,425.30 L363.73,425.78 L365.09,426.26 L366.45,426.75 L367.81,427.23 L369.16,427.70 L370.53,428.18 L371.89,428.66 L373.25,429.13 L374.61,429.61 L375.97,430.08 L377.33,430.55 L378.70,431.02 L380.06,431.49 L381.43,431.95 L382.79,432.42 L384.16,432.88 L385.52,433.34 L386.89,433.80 L388.25,434.26 L389.62,434.72 L390.99,435.18 L392.36,435.63 L393.72,436.09 L395.09,436.54 L396.46,436.99 L397.83,437.44 L399.20,437.88 L400.58,438.33 L401.95,438.77 L403.32,439.22 L404.69,439.66 L406.06,440.10 L407.44,440.54 L408.81,440.97 L410.19,441.41 L411.56,441.84 L412.94,442.27 L414.31,442.71 L415.69,443.13 L417.06,443.56 L418.44,443.99 L419.82,444.41 L421.20,444.83 L422.58,445.26 L423.96,445.67 L425.33,446.09 L426.71,446.51 L428.10,446.92 L429.48,447.34 L430.86,447.75 L432.24,448.16 L433.62,448.56 L435.00,448.97 L436.39,449.37 L437.77,449.78 L439.16,450.18 L440.54,450.58 L441.93,450.98 L443.31,451.37 L444.70,451.77 L446.08,452.16 L447.47,452.55 L448.86,452.94 L450.25,453.33 L451.64,453.71 L453.02,454.10 L454.41,454.48 L455.80,454.86 L457.19,455.24 L458.59,455.62 L459.98,455.99 L461.37,456.36 L462.76,456.74 L464.15,457.11 L465.55,457.47 L466.94,457.84 L468.33,458.20 L469.73,458.57 L471.12,458.93 L472.52,459.29 L473.91,459.64 L475.31,460.00 L476.71,460.35 L478.10,460.70 L479.50,461.05 L480.90,461.40 L482.30,461.75 L483.70,462.09 L485.10,462.43 L486.50,462.77 L487.90,463.11 L489.30,463.45 L490.70,463.78 L492.10,464.12 L493.50,464.45 L494.91,464.78 L496.31,465.10 L497.71,465.43 L499.12,465.75 L500.52,466.07 L501.93,466.39 L503.33,466.71 L504.74,467.02 L506.14,467.34 L507.55,467.65 L508.96,467.96 L510.37,468.26 L511.77,468.57 L513.18,468.87 L514.59,469.17 L516.00,469.47 L517.41,469.77 L518.82,470.07 L520.23,470.36 L521.64,470.65 L523.05,470.94 L524.47,471.22 L525.88,471.51 L527.29,471.79 L528.70,472.07 L530.12,472.35 L531.53,472.63 L532.95,472.90 L534.36,473.17 L535.78,473.44 L537.19,473.71 L538.61,473.98 L540.03,474.24 L541.44,474.51 L542.86,474.77 L544.28,475.03 L545.70,475.28 L547.11,475.54 L548.53,475.79 L549.95,476.04 L551.37,476.29 L552.79,476.54 L554.21,476.79 L555.63,477.03 L557.05,477.27 L558.48,477.52 L559.90,477.76 L561.32,477.99 L562.74,478.23 L564.16,478.47 L565.59,478.70 L567.01,478.93 L568.43,479.16 L569.86,479.39 L571.28,479.62 L572.70,479.85 L574.13,480.07 L575.55,480.30 L576.98,480.52 L578.40,480.74 L579.83,480.96 L581.25,481.18 L582.68,481.40 L584.11,481.61 L585.53,481.83 L586.96,482.04 L588.38,482.26 L589.81,482.47 L591.24,482.68 L592.67,482.89 L594.09,483.10 L595.52,483.31 L596.95,483.51 L598.37,483.72 L599.80,483.92 L601.23,484.13 L602.66,484.33 L604.09,484.53 L605.51,484.74 L606.94,484.94 L608.37,485.14 L609.80,485.34 L611.23,485.54 L612.66,485.73 L614.09,485.93 L615.51,486.13 L616.94,486.33 L618.37,486.52 L619.80,486.72 L621.23,486.91 L622.66,487.11 L624.09,487.30 L625.52,487.49 L626.95,487.69 L628.38,487.88 L629.81,488.07 L631.23,488.26 L632.66,488.45 L634.09,488.64 L635.52,488.83 L636.95,489.03 L638.38,489.22 L639.81,489.41 L641.24,489.60 L642.67,489.78 L644.09,489.97 L645.52,490.16 L646.95,490.35 L648.38,490.54 L649.81,490.73 L651.24,490.92 L652.67,491.11 L654.09,491.30 L655.52,491.49 L656.95,491.68 L658.38,491.87 L659.81,492.06 L661.23,492.25 L662.66,492.44 L664.09,492.63 L665.51,492.82 L666.94,493.01 L668.37,493.20 L669.80,493.39 L671.22,493.58 L672.65,493.78 L674.07,493.97 L675.50,494.16 L676.93,494.36 L678.35,494.55" fill="none" stroke="#4477AA" stroke-width="3.6" stroke-linejoin="round"/>
<path d="M94.76,568.49 L95.91,568.25 L97.05,568.00 L98.20,567.75 L99.34,567.50 L100.49,567.25 L101.63,567.00 L102.78,566.76 L103.92,566.51 L105.07,566.26 L106.21,566.01 L107.36,565.76 L108.50,565.51 L109.65,565.26 L110.80,565.02 L111.94,564.77 L113.09,564.52 L114.24,564.27 L115.39,564.02 L116.53,563.77 L117.68,563.53 L118.83,563.28 L119.98,563.03 L121.13,562.78 L122.27,562.54 L123.42,562.29 L124.57,562.04 L125.72,561.80 L126.87,561.55 L128.02,561.31 L129.17,561.06 L130.32,560.82 L131.47,560.57 L132.62,560.33 L133.77,560.08 L134.92,559.84 L136.08,559.60 L137.23,559.35 L138.38,559.11 L139.53,558.87 L140.68,558.63 L141.84,558.38 L142.99,558.14 L144.14,557.90 L145.29,557.66 L146.45,557.42 L147.60,557.18 L148.75,556.95 L149.91,556.71 L151.06,556.47 L152.21,556.23 L153.37,556.00 L154.52,555.76 L155.68,555.53 L156.83,555.29 L157.99,555.06 L159.14,554.82 L160.30,554.59 L161.45,554.36 L162.61,554.13 L163.76,553.90 L164.92,553.67 L166.08,553.44 L167.23,553.21 L168.39,552.98 L169.55,552.75 L170.70,552.53 L171.86,552.30 L173.02,552.08 L174.17,551.85 L175.33,551.63 L176.49,551.41 L177.65,551.19 L178.80,550.97 L179.96,550.75 L181.12,550.53 L182.28,550.31 L183.44,550.09 L184.60,549.88 L185.76,549.66 L186.92,549.45 L188.08,549.24 L189.23,549.02 L190.39,548.81 L191.55,548.60 L192.71,548.39 L193.87,548.18 L195.04,547.98 L196.20,547.77 L197.36,547.57 L198.52,547.36 L199.68,547.16 L200.84,546.96 L202.00,546.76 L203.16,546.56 L204.32,546.36 L205.49,546.16 L206.65,545.97 L207.81,545.77 L208.97,545.58 L210.13,545.39 L211.30,545.20 L212.46,545.01 L213.62,544.82 L214.78,544.63 L215.95,544.44 L217.11,544.26 L218.27,544.08 L219.44,543.89 L220.60,543.71 L221.76,543.53 L222.93,543.36 L224.09,543.18 L225.26,543.00 L226.42,542.83 L227.59,542.66 L228.75,542.49 L229.91,542.32 L231.08,542.15 L232.24,541.98 L233.41,541.82 L234.57,541.65 L235.74,541.49 L236.91,541.33 L238.07,541.17 L239.24,541.01 L240.40,540.86 L241.57,540.70 L242.74,540.55 L243.90,540.40 L245.07,540.25 L246.23,540.10 L247.40,539.96 L248.57,539.81 L249.73,539.67 L250.90,539.53 L252.07,539.39 L253.24,539.25 L254.40,539.11 L255.57,538.98 L256.74,538.85 L257.91,538.72 L259.07,538.59 L260.24,538.46 L261.41,538.33 L262.58,538.21 L263.74,538.09 L264.91,537.97 L266.08,537.85 L267.25,537.73 L268.42,537.62 L269.59,537.51 L270.76,537.40 L271.92,537.29 L273.09,537.18 L274.26,537.08 L275.43,536.97 L276.60,536.87 L277.77,536.77 L278.94,536.68 L280.11,536.58 L281.28,536.49 L282.45,536.40 L283.62,536.31 L284.79,536.22 L285.96,536.14 L287.13,536.06 L288.30,535.98 L289.47,535.90 L290.64,535.82 L291.81,535.75 L292.98,535.68 L294.15,535.61 L295.32,535.54 L296.49,535.47 L297.66,535.41 L298.84,535.35 L300.01,535.29 L301.18,535.23 L302.35,535.17 L303.52,535.12 L304.69,535.07 L305.86,535.02 L307.03,534.97 L308.21,534.92 L309.38,534.88 L310.55,534.84 L311.72,534.80 L312.89,534.76 L314.07,534.72 L315.24,534.69 L316.41,534.66 L317.58,534.62 L318.75,534.59 L319.93,534.57 L321.10,534.54 L322.27,534.52 L323.44,534.49 L324.62,534.47 L325.79,534.45 L326.96,534.44 L328.14,534.42 L329.31,534.41 L330.48,534.39 L331.65,534.38 L332.83,534.37 L334.00,534.37 L335.17,534.36 L336.35,534.36 L337.52,534.35 L338.69,534.35 L339.87,534.35 L341.04,534.35 L342.22,534.36 L343.39,534.36 L344.56,534.37 L345.74,534.38 L346.91,534.38 L348.08,534.39 L349.26,534.41 L350.43,534.42 L351.61,534.43 L352.78,534.45 L353.95,534.47 L355.13,534.49 L356.30,534.51 L357.48,534.53 L358.65,534.55 L359.83,534.57 L361.00,534.60 L362.17,534.63 L363.35,534.65 L364.52,534.68 L365.70,534.71 L366.87,534.75 L368.05,534.78 L369.22,534.81 L370.40,534.85 L371.57,534.88 L372.75,534.92 L373.92,534.96 L375.10,535.00 L376.27,535.04 L377.45,535.08 L378.62,535.12 L379.80,535.17 L380.97,535.21 L382.15,535.26 L383.32,535.30 L384.50,535.35 L385.67,535.40 L386.85,535.45 L388.02,535.50 L389.20,535.55 L390.37,535.61 L391.55,535.66 L392.73,535.71 L393.90,535.77 L395.08,535.83 L396.25,535.88 L397.43,535.94 L398.60,536.00 L399.78,536.06 L400.95,536.12 L402.13,536.18 L403.31,536.24 L404.48,536.31 L405.66,536.37 L406.83,536.43 L408.01,536.50 L409.18,536.56 L410.36,536.63 L411.54,536.70 L412.71,536.76 L413.89,536.83 L415.06,536.90 L416.24,536.97 L417.42,537.04 L418.59,537.11 L419.77,537.18 L420.94,537.26 L422.12,537.33 L423.30,537.40 L424.47,537.47 L425.65,537.55 L426.82,537.62 L428.00,537.70 L429.18,537.77 L430.35,537.85 L431.53,537.93 L432.70,538.00 L433.88,538.08 L435.06,538.16 L436.23,538.24 L437.41,538.31 L438.58,538.39 L439.76,538.47 L440.94,538.55 L442.11,538.63 L443.29,538.71 L444.46,538.79 L445.64,538.87 L446.82,538.95 L447.99,539.03 L449.17,539.11 L450.34,539.20 L451.52,539.28 L452.70,539.36 L453.87,539.44 L455.05,539.52 L456.22,539.61 L457.40,539.69 L458.58,539.77 L459.75,539.85 L460.93,539.94 L462.10,540.02 L463.28,540.10 L464.46,540.18 L465.63,540.27 L466.81,540.35 L467.98,540.43 L469.16,540.52 L470.34,540.60 L471.51,540.68 L472.69,540.77 L473.86,540.85 L475.04,540.93 L476.21,541.01 L477.39,541.10 L478.57,541.18 L479.74,541.26 L480.92,541.34 L482.09,541.43 L483.27,541.51 L484.44,541.59 L485.62,541.67 L486.79,541.75 L487.97,541.83 L489.15,541.91 L490.32,541.99 L491.50,542.07 L492.67,542.15 L493.85,542.23 L495.02,542.31 L496.20,542.39 L497.37,542.47 L498.55,542.55 L499.72,542.63 L500.90,542.70 L502.07,542.78 L503.25,542.86 L504.42,542.93 L505.60,543.01 L506.77,543.09 L507.95,543.16 L509.12,543.24 L510.30,543.31 L511.47,543.39 L512.65,543.46 L513.82,543.53 L515.00,543.61 L516.17,543.68 L517.35,543.75 L518.52,543.82 L519.70,543.90 L520.87,543.97 L522.05,544.04 L523.22,544.11 L524.40,544.18 L525.57,544.25 L526.75,544.32 L527.92,544.39 L529.10,544.45 L530.27,544.52 L531.45,544.59 L532.62,544.66 L533.79,544.72 L534.97,544.79 L536.14,544.85 L537.32,544.92 L538.49,544.98 L539.67,545.05 L540.84,545.11 L542.02,545.18 L543.19,545.24 L544.37,545.30 L545.54,545.36 L546.71,545.42 L547.89,545.48 L549.06,545.54 L550.24,545.60 L551.41,545.66 L552.59,545.72 L553.76,545.78 L554.94,545.84 L556.11,545.90 L557.29,545.95 L558.46,546.01 L559.63,546.07 L560.81,546.12 L561.98,546.18 L563.16,546.23 L564.33,546.28 L565.51,546.34 L566.68,546.39 L567.86,546.44 L569.03,546.49 L570.21,546.54 L571.38,546.59 L572.56,546.64 L573.73,546.69 L574.90,546.74 L576.08,546.79 L577.25,546.84 L578.43,546.88 L579.60,546.93 L580.78,546.98 L581.95,547.02 L583.13,547.07 L584.30,547.11 L585.48,547.15 L586.65,547.19 L587.83,547.24 L589.00,547.28 L590.18,547.32 L591.35,547.36 L592.53,547.40 L593.70,547.44 L594.88,547.48 L596.05,547.51 L597.23,547.55 L598.40,547.59 L599.58,547.62 L600.75,547.66 L601.93,547.69 L603.10,547.73 L604.28,547.76 L605.45,547.79 L606.63,547.82 L607.80,547.86 L608.98,547.89 L610.15,547.92 L611.33,547.94 L612.50,547.97 L613.68,548.00 L614.85,548.03 L616.03,548.05 L617.20,548.08 L618.38,548.10 L619.56,548.13 L620.73,548.15 L621.91,548.17 L623.08,548.20 L624.26,548.22 L625.43,548.24 L626.61,548.26 L627.79,548.28 L628.96,548.30 L630.14,548.31 L631.31,548.33 L632.49,548.35 L633.67,548.36 L634.84,548.38 L636.02,548.39 L637.19,548.40 L638.37,548.42 L639.55,548.43 L640.72,548.44 L641.90,548.45 L643.08,548.46 L644.25,548.47 L645.43,548.47 L646.61,548.48 L647.78,548.49 L648.96,548.49 L650.14,548.50 L651.31,548.50 L652.49,548.50 L653.67,548.50 L654.84,548.51 L656.02,548.51 L657.20,548.51 L658.37,548.50 L659.55,548.50 L660.73,548.50 L661.91,548.50 L663.08,548.49 L664.26,548.49 L665.44,548.48 L666.62,548.47 L667.79,548.46 L668.97,548.46 L670.15,548.45 L671.33,548.44 L672.51,548.42 L673.68,548.41 L674.86,548.40 L676.04,548.38 L677.22,548.37 L678.40,548.35" fill="none" stroke="#4477AA" stroke-width="3.5" stroke-dasharray="3.2 2.8"/>
<path d="M124.93,568.07 L126.12,568.15 L127.32,568.22 L128.52,568.27 L129.73,568.32 L130.95,568.36 L132.17,568.39 L133.39,568.41 L134.62,568.42 L135.86,568.42 L137.09,568.40 L138.33,568.38 L139.57,568.34 L140.81,568.30 L142.06,568.24 L143.30,568.17 L144.54,568.08 L145.79,567.99 L147.03,567.88 L148.27,567.76 L149.51,567.62 L150.75,567.47 L151.99,567.31 L153.22,567.13 L154.45,566.94 L155.68,566.73 L156.90,566.50 L158.11,566.26 L159.32,566.01 L160.53,565.74 L161.72,565.45 L162.91,565.15 L164.10,564.82 L165.27,564.49 L166.44,564.13 L167.60,563.76 L168.75,563.36 L169.89,562.95 L171.02,562.52 L172.14,562.08 L173.25,561.61 L174.34,561.12 L175.43,560.62 L176.50,560.09 L177.56,559.54 L178.60,558.98 L179.64,558.39 L180.66,557.79 L181.67,557.16 L182.67,556.52 L183.66,555.86 L184.63,555.19 L185.60,554.50 L186.55,553.79 L187.50,553.06 L188.43,552.33 L189.36,551.57 L190.28,550.80 L191.18,550.02 L192.08,549.23 L192.97,548.42 L193.85,547.60 L194.73,546.77 L195.59,545.92 L196.45,545.07 L197.30,544.21 L198.15,543.33 L198.98,542.45 L199.82,541.55 L200.64,540.65 L201.46,539.74 L202.28,538.82 L203.08,537.90 L203.89,536.96 L204.69,536.03 L205.48,535.08 L206.27,534.13 L207.06,533.18 L207.85,532.22 L208.63,531.25 L209.40,530.29 L210.18,529.32 L210.95,528.34 L211.72,527.37 L212.49,526.39 L213.26,525.41 L214.02,524.44 L214.78,523.46 L215.55,522.48 L216.31,521.50 L217.07,520.52 L217.84,519.55 L218.60,518.57 L219.36,517.60 L220.12,516.63 L220.89,515.66 L221.65,514.69 L222.41,513.72 L223.18,512.76 L223.94,511.80 L224.71,510.84 L225.48,509.88 L226.24,508.92 L227.01,507.97 L227.78,507.01 L228.56,506.06 L229.33,505.12 L230.10,504.17 L230.88,503.23 L231.65,502.29 L232.43,501.35 L233.21,500.41 L234.00,499.48 L234.78,498.55 L235.57,497.62 L236.36,496.70 L237.15,495.78 L237.94,494.86 L238.74,493.95 L239.54,493.04 L240.34,492.13 L241.14,491.22 L241.95,490.32 L242.76,489.42 L243.57,488.53 L244.39,487.64 L245.21,486.75 L246.03,485.87 L246.86,484.99 L247.69,484.11 L248.52,483.24 L249.36,482.37 L250.20,481.51 L251.04,480.65 L251.89,479.80 L252.74,478.94 L253.60,478.10 L254.46,477.26 L255.33,476.42 L256.20,475.59 L257.07,474.76 L257.95,473.93 L258.84,473.11 L259.73,472.30 L260.62,471.49 L261.52,470.69 L262.42,469.89 L263.33,469.09 L264.25,468.30 L265.17,467.52 L266.09,466.74 L267.02,465.97 L267.96,465.20 L268.90,464.44 L269.85,463.68 L270.81,462.93 L271.77,462.19 L272.73,461.45 L273.71,460.71 L274.69,459.99 L275.67,459.26 L276.66,458.55 L277.66,457.84 L278.66,457.13 L279.66,456.43 L280.67,455.73 L281.69,455.04 L282.71,454.36 L283.73,453.68 L284.76,453.00 L285.80,452.33 L286.83,451.66 L287.87,451.00 L288.92,450.35 L289.97,449.69 L291.02,449.05 L292.07,448.40 L293.13,447.76 L294.19,447.13 L295.25,446.49 L296.32,445.87 L297.39,445.24 L298.46,444.62 L299.53,444.01 L300.60,443.39 L301.68,442.79 L302.75,442.18 L303.83,441.58 L304.91,440.98 L305.99,440.38 L307.07,439.79 L308.15,439.20 L309.24,438.62 L310.32,438.03 L311.40,437.45 L312.49,436.87 L313.57,436.30 L314.65,435.73 L315.73,435.16 L316.82,434.59 L317.90,434.03 L318.99,433.48 L320.07,432.93 L321.16,432.38 L322.25,431.84 L323.34,431.31 L324.43,430.79 L325.52,430.27 L326.62,429.76 L327.72,429.26 L328.82,428.77 L329.92,428.28 L331.03,427.81 L332.14,427.34 L333.26,426.89 L334.37,426.45 L335.49,426.02 L336.62,425.60 L337.75,425.19 L338.88,424.80 L340.02,424.41 L341.16,424.04 L342.31,423.67 L343.46,423.32 L344.61,422.98 L345.76,422.64 L346.92,422.32 L348.08,422.00 L349.25,421.69 L350.42,421.39 L351.59,421.10 L352.76,420.81 L353.94,420.54 L355.12,420.27 L356.30,420.00 L357.48,419.74 L358.67,419.49 L359.86,419.25 L361.05,419.01 L362.24,418.77 L363.44,418.54 L364.64,418.31 L365.84,418.09 L367.04,417.87 L368.24,417.66 L369.45,417.45 L370.65,417.24 L371.86,417.04 L373.07,416.83 L374.28,416.63 L375.50,416.44 L376.71,416.24 L377.93,416.05 L379.14,415.87 L380.36,415.68 L381.58,415.50 L382.80,415.33 L384.02,415.15 L385.24,414.99 L386.46,414.82 L387.68,414.66 L388.90,414.50 L390.12,414.34 L391.35,414.19 L392.57,414.05 L393.80,413.90 L395.02,413.76 L396.25,413.63 L397.47,413.50 L398.70,413.37 L399.92,413.25 L401.14,413.13 L402.37,413.02 L403.59,412.91 L404.82,412.81 L406.04,412.71 L407.26,412.61 L408.49,412.52 L409.71,412.43 L410.93,412.35 L412.16,412.27 L413.38,412.20 L414.60,412.13 L415.82,412.07 L417.04,412.00 L418.26,411.95 L419.49,411.89 L420.71,411.84 L421.93,411.80 L423.15,411.76 L424.37,411.72 L425.59,411.68 L426.81,411.65 L428.03,411.62 L429.25,411.60 L430.46,411.58 L431.68,411.56 L432.90,411.55 L434.12,411.54 L435.34,411.53 L436.56,411.53 L437.77,411.53 L438.99,411.53 L440.21,411.54 L441.43,411.55 L442.64,411.56 L443.86,411.58 L445.08,411.60 L446.29,411.62 L447.51,411.64 L448.73,411.67 L449.94,411.70 L451.16,411.73 L452.38,411.77 L453.59,411.80 L454.81,411.84 L456.02,411.89 L457.24,411.93 L458.46,411.98 L459.67,412.03 L460.89,412.08 L462.10,412.14 L463.32,412.19 L464.53,412.25 L465.75,412.31 L466.96,412.37 L468.18,412.44 L469.39,412.51 L470.60,412.58 L471.82,412.65 L473.03,412.72 L474.25,412.79 L475.46,412.87 L476.68,412.95 L477.89,413.03 L479.11,413.11 L480.32,413.19 L481.53,413.28 L482.75,413.36 L483.96,413.45 L485.18,413.54 L486.39,413.63 L487.60,413.72 L488.82,413.81 L490.03,413.90 L491.25,414.00 L492.46,414.09 L493.67,414.19 L494.89,414.29 L496.10,414.39 L497.32,414.49 L498.53,414.59 L499.74,414.69 L500.96,414.79 L502.17,414.89 L503.39,414.99 L504.60,415.10 L505.81,415.20 L507.03,415.31 L508.24,415.41 L509.46,415.52 L510.67,415.62 L511.89,415.73 L513.10,415.84 L514.32,415.94 L515.53,416.05 L516.75,416.16 L517.96,416.27 L519.17,416.38 L520.39,416.48 L521.60,416.59 L522.82,416.70 L524.03,416.81 L525.25,416.92 L526.46,417.03 L527.68,417.15 L528.89,417.26 L530.11,417.37 L531.32,417.48 L532.54,417.59 L533.75,417.71 L534.97,417.82 L536.19,417.93 L537.40,418.05 L538.62,418.16 L539.83,418.27 L541.05,418.39 L542.26,418.50 L543.48,418.62 L544.69,418.73 L545.91,418.85 L547.12,418.96 L548.34,419.08 L549.56,419.19 L550.77,419.31 L551.99,419.42 L553.20,419.54 L554.42,419.66 L555.63,419.77 L556.85,419.89 L558.07,420.01 L559.28,420.12 L560.50,420.24 L561.71,420.36 L562.93,420.47 L564.14,420.59 L565.36,420.71 L566.58,420.83 L567.79,420.94 L569.01,421.06 L570.22,421.18 L571.44,421.30 L572.66,421.41 L573.87,421.53 L575.09,421.65 L576.30,421.77 L577.52,421.88 L578.74,422.00 L579.95,422.12 L581.17,422.24 L582.39,422.35 L583.60,422.47 L584.82,422.59 L586.03,422.71 L587.25,422.82 L588.47,422.94 L589.68,423.06 L590.90,423.18 L592.11,423.29 L593.33,423.41 L594.55,423.53 L595.76,423.64 L596.98,423.76 L598.20,423.88 L599.41,423.99 L600.63,424.11 L601.84,424.22 L603.06,424.34 L604.28,424.46 L605.49,424.57 L606.71,424.69 L607.92,424.80 L609.14,424.92 L610.36,425.03 L611.57,425.15 L612.79,425.26 L614.01,425.38 L615.22,425.49 L616.44,425.60 L617.65,425.72 L618.87,425.83 L620.09,425.94 L621.30,426.05 L622.52,426.17 L623.73,426.28 L624.95,426.39 L626.17,426.50 L627.38,426.61 L628.60,426.72 L629.81,426.83 L631.03,426.94 L632.25,427.05 L633.46,427.16 L634.68,427.27 L635.89,427.38 L637.11,427.49 L638.33,427.60 L639.54,427.70 L640.76,427.81 L641.97,427.92 L643.19,428.02 L644.41,428.13 L645.62,428.23 L646.84,428.34 L648.05,428.44 L649.27,428.55 L650.48,428.65 L651.70,428.75 L652.92,428.86 L654.13,428.96 L655.35,429.06 L656.56,429.16 L657.78,429.26 L658.99,429.36 L660.21,429.46 L661.42,429.56 L662.64,429.66 L663.85,429.76 L665.07,429.85 L666.29,429.95 L667.50,430.05 L668.72,430.14 L669.93,430.24 L671.15,430.33 L672.36,430.42 L673.58,430.52 L674.79,430.61 L676.01,430.70 L677.22,430.79 L678.44,430.88" fill="none" stroke="#EE6677" stroke-width="3.7" stroke-linejoin="round"/>
<path d="M94.61,568.08 L96.09,568.10 L97.56,568.12 L99.04,568.15 L100.52,568.17 L102.00,568.19 L103.48,568.21 L104.96,568.23 L106.44,568.26 L107.91,568.28 L109.39,568.30 L110.87,568.32 L112.35,568.34 L113.83,568.36 L115.31,568.38 L116.79,568.40 L118.27,568.42 L119.75,568.43 L121.23,568.45 L122.71,568.47 L124.19,568.49 L125.67,568.51 L127.15,568.52 L128.63,568.54 L130.11,568.55 L131.59,568.57 L133.07,568.58 L134.56,568.60 L136.04,568.61 L137.52,568.63 L139.00,568.64 L140.48,568.65 L141.96,568.66 L143.44,568.67 L144.92,568.68 L146.40,568.69 L147.89,568.70 L149.37,568.71 L150.85,568.72 L152.33,568.73 L153.81,568.73 L155.29,568.74 L156.78,568.74 L158.26,568.75 L159.74,568.75 L161.22,568.75 L162.70,568.76 L164.18,568.76 L165.67,568.76 L167.15,568.76 L168.63,568.76 L170.11,568.76 L171.59,568.75 L173.08,568.75 L174.56,568.75 L176.04,568.74 L177.52,568.73 L179.00,568.73 L180.49,568.72 L181.97,568.71 L183.45,568.70 L184.93,568.69 L186.41,568.68 L187.90,568.66 L189.38,568.65 L190.86,568.64 L192.34,568.62 L193.82,568.60 L195.31,568.59 L196.79,568.57 L198.27,568.55 L199.75,568.52 L201.23,568.50 L202.71,568.48 L204.20,568.45 L205.68,568.43 L207.16,568.40 L208.64,568.37 L210.12,568.34 L211.60,568.31 L213.09,568.28 L214.57,568.25 L216.05,568.21 L217.53,568.18 L219.01,568.14 L220.49,568.10 L221.97,568.07 L223.45,568.02 L224.93,567.98 L226.41,567.94 L227.90,567.89 L229.38,567.85 L230.86,567.80 L232.34,567.75 L233.82,567.70 L235.30,567.65 L236.78,567.60 L238.26,567.54 L239.74,567.49 L241.22,567.43 L242.70,567.37 L244.18,567.31 L245.66,567.25 L247.14,567.18 L248.61,567.12 L250.09,567.05 L251.57,566.98 L253.05,566.91 L254.53,566.84 L256.01,566.77 L257.49,566.69 L258.97,566.61 L260.44,566.54 L261.92,566.46 L263.40,566.38 L264.88,566.29 L266.36,566.21 L267.83,566.12 L269.31,566.03 L270.79,565.94 L272.27,565.85 L273.74,565.76 L275.22,565.66 L276.70,565.56 L278.17,565.46 L279.65,565.36 L281.13,565.26 L282.60,565.15 L284.08,565.05 L285.55,564.94 L287.03,564.83 L288.50,564.72 L289.98,564.60 L291.45,564.49 L292.93,564.37 L294.40,564.25 L295.88,564.12 L297.35,564.00 L298.82,563.87 L300.30,563.75 L301.77,563.61 L303.24,563.48 L304.72,563.35 L306.19,563.21 L307.66,563.07 L309.14,562.93 L310.61,562.79 L312.08,562.64 L313.55,562.50 L315.02,562.35 L316.49,562.19 L317.97,562.04 L319.44,561.88 L320.91,561.73 L322.38,561.57 L323.85,561.40 L325.32,561.24 L326.79,561.07 L328.26,560.90 L329.72,560.73 L331.19,560.55 L332.66,560.38 L334.13,560.20 L335.60,560.02 L337.07,559.83 L338.53,559.65 L340.00,559.46 L341.47,559.27 L342.93,559.08 L344.40,558.88 L345.87,558.68 L347.33,558.48 L348.80,558.28 L350.26,558.07 L351.73,557.86 L353.19,557.65 L354.66,557.44 L356.12,557.22 L357.59,557.01 L359.05,556.79 L360.51,556.56 L361.98,556.34 L363.44,556.11 L364.90,555.88 L366.36,555.65 L367.83,555.42 L369.29,555.18 L370.75,554.94 L372.21,554.70 L373.67,554.46 L375.13,554.22 L376.59,553.97 L378.05,553.73 L379.51,553.48 L380.97,553.23 L382.43,552.97 L383.89,552.72 L385.35,552.46 L386.81,552.20 L388.27,551.94 L389.72,551.68 L391.18,551.42 L392.64,551.15 L394.10,550.89 L395.55,550.62 L397.01,550.35 L398.47,550.08 L399.93,549.80 L401.38,549.53 L402.84,549.25 L404.29,548.98 L405.75,548.70 L407.21,548.42 L408.66,548.14 L410.12,547.86 L411.57,547.58 L413.03,547.29 L414.48,547.01 L415.94,546.72 L417.39,546.43 L418.84,546.14 L420.30,545.85 L421.75,545.56 L423.20,545.27 L424.66,544.98 L426.11,544.69 L427.56,544.39 L429.02,544.10 L430.47,543.80 L431.92,543.51 L433.37,543.21 L434.83,542.91 L436.28,542.61 L437.73,542.31 L439.18,542.02 L440.63,541.72 L442.08,541.41 L443.53,541.11 L444.99,540.81 L446.44,540.51 L447.89,540.21 L449.34,539.90 L450.79,539.60 L452.24,539.30 L453.69,538.99 L455.14,538.69 L456.59,538.39 L458.04,538.08 L459.49,537.78 L460.94,537.47 L462.39,537.17 L463.84,536.86 L465.28,536.56 L466.73,536.25 L468.18,535.95 L469.63,535.64 L471.08,535.34 L472.53,535.03 L473.98,534.73 L475.42,534.43 L476.87,534.12 L478.32,533.82 L479.77,533.51 L481.22,533.21 L482.66,532.91 L484.11,532.61 L485.56,532.30 L487.01,532.00 L488.45,531.70 L489.90,531.40 L491.35,531.09 L492.80,530.79 L494.24,530.49 L495.69,530.19 L497.14,529.88 L498.58,529.58 L500.03,529.28 L501.47,528.97 L502.92,528.67 L504.37,528.36 L505.81,528.06 L507.26,527.76 L508.70,527.45 L510.15,527.15 L511.59,526.84 L513.04,526.53 L514.49,526.23 L515.93,525.92 L517.38,525.61 L518.82,525.30 L520.26,524.99 L521.71,524.68 L523.15,524.37 L524.60,524.06 L526.04,523.75 L527.49,523.43 L528.93,523.12 L530.37,522.80 L531.82,522.49 L533.26,522.17 L534.70,521.85 L536.15,521.53 L537.59,521.21 L539.03,520.89 L540.48,520.57 L541.92,520.25 L543.36,519.92 L544.80,519.60 L546.25,519.27 L547.69,518.94 L549.13,518.62 L550.57,518.29 L552.02,517.96 L553.46,517.63 L554.90,517.31 L556.34,516.98 L557.79,516.65 L559.23,516.33 L560.67,516.00 L562.11,515.67 L563.56,515.35 L565.00,515.02 L566.44,514.70 L567.89,514.38 L569.33,514.06 L570.78,513.74 L572.22,513.42 L573.67,513.10 L575.11,512.78 L576.56,512.47 L578.00,512.16 L579.45,511.85 L580.90,511.54 L582.34,511.24 L583.79,510.93 L585.24,510.63 L586.69,510.34 L588.14,510.04 L589.59,509.75 L591.04,509.46 L592.49,509.17 L593.94,508.89 L595.39,508.61 L596.85,508.33 L598.30,508.06 L599.75,507.79 L601.21,507.53 L602.66,507.26 L604.12,507.00 L605.58,506.75 L607.03,506.49 L608.49,506.24 L609.95,505.99 L611.41,505.74 L612.87,505.49 L614.32,505.25 L615.78,505.00 L617.24,504.76 L618.70,504.51 L620.16,504.27 L621.62,504.03 L623.08,503.78 L624.54,503.54 L626.00,503.29 L627.45,503.04 L628.91,502.79 L630.37,502.54 L631.83,502.29 L633.28,502.03 L634.74,501.77 L636.20,501.51 L637.65,501.25 L639.11,500.98 L640.56,500.71 L642.01,500.44 L643.47,500.16 L644.92,499.88 L646.37,499.60 L647.82,499.32 L649.27,499.03 L650.73,498.75 L652.18,498.46 L653.63,498.17 L655.08,497.88 L656.53,497.59 L657.98,497.30 L659.43,497.02 L660.88,496.73 L662.33,496.44 L663.78,496.16 L665.23,495.87 L666.68,495.59 L668.13,495.31 L669.58,495.03 L671.04,494.76 L672.49,494.49 L673.94,494.22 L675.39,493.96 L676.85,493.70 L678.30,493.44" fill="none" stroke="#AA3377" stroke-width="3.6" stroke-linejoin="round"/>
</g>
<rect x="317.6" y="149.2" width="43.9" height="36.2" fill="#CCCCCC"/>
<line x1="317.6" x2="361.5" y1="167" y2="167" stroke="#fff" stroke-width="3"/>
<rect x="94.6" y="124.5" width="583.8" height="443.9" fill="none" stroke="#000" stroke-width="1.7"/>
<path d="M110.50,568.40 V560.10 M142.05,568.40 V560.10 M173.60,568.40 V560.10 M205.15,568.40 V552.00 M236.70,568.40 V560.10 M268.25,568.40 V560.10 M299.80,568.40 V560.10 M331.35,568.40 V560.10 M362.90,568.40 V552.00 M394.45,568.40 V560.10 M426.00,568.40 V560.10 M457.55,568.40 V560.10 M489.10,568.40 V560.10 M520.65,568.40 V552.00 M552.20,568.40 V560.10 M583.75,568.40 V560.10 M615.30,568.40 V560.10 M646.85,568.40 V560.10 M678.40,568.40 V552.00" stroke="#000" stroke-width="1.55" fill="none"/>
<path d="M94.60,530.45 H101.70 M94.60,492.50 H101.70 M94.60,454.55 H101.70 M94.60,416.60 H101.70 M94.60,378.65 H108.80 M94.60,340.70 H101.70 M94.60,302.75 H101.70 M94.60,264.80 H101.70 M94.60,226.85 H101.70 M94.60,188.90 H108.80 M94.60,150.95 H101.70" stroke="#000" stroke-width="1.5" fill="none"/>
<line x1="1" x2="61" y1="9.8" y2="9.8" stroke="#000" stroke-width="4.6"/>
<line x1="1" x2="61" y1="52.8" y2="52.8" stroke="#4477AA" stroke-width="3.4"/>
<line x1="1" x2="61" y1="96" y2="96" stroke="#EE6677" stroke-width="3.4"/>
<line x1="327.6" x2="388.6" y1="9.7" y2="9.7" stroke="#000" stroke-width="4.6" stroke-dasharray="3.2 2.96"/>
<line x1="327.6" x2="388.6" y1="52.6" y2="52.6" stroke="#4477AA" stroke-width="3.5" stroke-dasharray="3.0 2.96"/>
<line x1="327.9" x2="388.1" y1="96" y2="96" stroke="#AA3377" stroke-width="3.5"/>
<text x="83.00" y="20.00" font-size="31" font-family="Liberation Serif" textLength="152.54" lengthAdjust="spacingAndGlyphs">CC Inclusive</text>
<text x="83.00" y="63.50" font-size="31" font-family="Liberation Serif" textLength="200.04" lengthAdjust="spacingAndGlyphs">CC Quasi-elastic</text>
<text x="83.00" y="106.50" font-size="31" font-family="Liberation Serif" textLength="195.01" lengthAdjust="spacingAndGlyphs">CC Resonant 1<tspan font-style="italic">π</tspan></text>
<text x="411.00" y="19.50" font-size="31" font-family="Liberation Serif" textLength="151.51" lengthAdjust="spacingAndGlyphs">NC Inclusive</text>
<text x="411.00" y="63.50" font-size="31" font-family="Liberation Serif" textLength="104.52" lengthAdjust="spacingAndGlyphs">CC 2p2h</text>
<text x="411.00" y="106.00" font-size="31" font-family="Liberation Serif" textLength="217.54" lengthAdjust="spacingAndGlyphs">CC Multi-<tspan font-style="italic">π</tspan> + DIS</text>
<text x="81.0" y="578.0" font-size="28.5" font-family="Liberation Serif" text-anchor="end">0</text>
<text x="81.0" y="388.5" font-size="28.5" font-family="Liberation Serif" text-anchor="end">0.5</text>
<text x="81.0" y="198.3" font-size="28.5" font-family="Liberation Serif" text-anchor="end">1</text>
<text x="205.2" y="604.5" font-size="32.0" font-family="Liberation Serif" text-anchor="middle">0.5</text>
<text x="362.9" y="604.5" font-size="32.0" font-family="Liberation Serif" text-anchor="middle">1</text>
<text x="520.6" y="604.5" font-size="32.0" font-family="Liberation Serif" text-anchor="middle">1.5</text>
<text x="678.4" y="604.5" font-size="32.0" font-family="Liberation Serif" text-anchor="middle">2</text>
<text transform="translate(23.10,638.50) rotate(-90)" font-size="29.0" font-family="Liberation Serif" font-style="italic" textLength="14.09" lengthAdjust="spacingAndGlyphs">σ</text>
<text transform="translate(26.80,623.50) rotate(-90)" font-size="16.0" font-family="Liberation Serif" textLength="12.66" lengthAdjust="spacingAndGlyphs">H</text>
<text transform="translate(28.00,610.50) rotate(-90)" font-size="15.0" font-family="Liberation Serif" textLength="9.05" lengthAdjust="spacingAndGlyphs">2</text>
<text transform="translate(26.80,598.50) rotate(-90)" font-size="16.0" font-family="Liberation Serif" textLength="12.17" lengthAdjust="spacingAndGlyphs">O</text>
<text transform="translate(23.00,582.00) rotate(-90)" font-size="29.0" font-family="Liberation Serif" textLength="7.76" lengthAdjust="spacingAndGlyphs">(</text>
<text transform="translate(22.60,572.50) rotate(-90)" font-size="29.0" font-family="Liberation Serif" font-style="italic" textLength="19.55" lengthAdjust="spacingAndGlyphs">E</text>
<text transform="translate(26.80,553.00) rotate(-90)" font-size="18.0" font-family="Liberation Serif" font-style="italic" textLength="10.60" lengthAdjust="spacingAndGlyphs">ν</text>
<text transform="translate(23.00,539.00) rotate(-90)" font-size="29.0" font-family="Liberation Serif" textLength="6.70" lengthAdjust="spacingAndGlyphs">)</text>
<text transform="translate(22.30,515.00) rotate(-90)" font-size="29.0" font-family="Liberation Serif" font-style="italic" textLength="20.00" lengthAdjust="spacingAndGlyphs">E</text>
<text transform="translate(26.30,496.00) rotate(-90)" font-size="18.0" font-family="Liberation Serif" font-style="italic" textLength="10.51" lengthAdjust="spacingAndGlyphs">ν</text>
<text transform="translate(22.60,473.50) rotate(-90)" font-size="29.0" font-family="Liberation Serif" textLength="11.63" lengthAdjust="spacingAndGlyphs">1</text>
<text transform="translate(22.60,460.50) rotate(-90)" font-size="29.0" font-family="Liberation Serif" textLength="13.26" lengthAdjust="spacingAndGlyphs">0</text>
<text transform="translate(14.50,447.00) rotate(-90)" font-size="20.0" font-family="Liberation Serif" textLength="16.60" lengthAdjust="spacingAndGlyphs">−</text>
<text transform="translate(12.30,430.00) rotate(-90)" font-size="20.0" font-family="Liberation Serif" textLength="10.46" lengthAdjust="spacingAndGlyphs">3</text>
<text transform="translate(12.30,419.00) rotate(-90)" font-size="20.0" font-family="Liberation Serif" textLength="10.30" lengthAdjust="spacingAndGlyphs">8</text>
<text transform="translate(22.80,408.00) rotate(-90)" font-size="29.0" font-family="Liberation Serif" textLength="11.36" lengthAdjust="spacingAndGlyphs">c</text>
<text transform="translate(22.80,394.50) rotate(-90)" font-size="29.0" font-family="Liberation Serif" textLength="23.05" lengthAdjust="spacingAndGlyphs">m</text>
<text transform="translate(14.20,371.50) rotate(-90)" font-size="20.0" font-family="Liberation Serif" textLength="14.24" lengthAdjust="spacingAndGlyphs">−</text>
<text transform="translate(12.90,355.50) rotate(-90)" font-size="20.0" font-family="Liberation Serif" textLength="10.37" lengthAdjust="spacingAndGlyphs">2</text>
<text transform="translate(22.80,312.00) rotate(-90)" font-size="29.0" font-family="Liberation Serif" textLength="20.84" lengthAdjust="spacingAndGlyphs">G</text>
<text transform="translate(22.80,292.00) rotate(-90)" font-size="29.0" font-family="Liberation Serif" textLength="10.41" lengthAdjust="spacingAndGlyphs">e</text>
<text transform="translate(22.60,280.50) rotate(-90)" font-size="29.0" font-family="Liberation Serif" textLength="19.03" lengthAdjust="spacingAndGlyphs">V</text>
<text transform="translate(23.10,229.50) rotate(-90)" font-size="29.0" font-family="Liberation Serif" textLength="20.60" lengthAdjust="spacingAndGlyphs">N</text>
<text transform="translate(23.10,207.00) rotate(-90)" font-size="29.0" font-family="Liberation Serif" textLength="74.01" lengthAdjust="spacingAndGlyphs">ucleon</text>
<line x1="2.30" y1="518.60" x2="28.70" y2="528.10" stroke="#000" stroke-width="1.25" stroke-linecap="round"/>
<line x1="2.30" y1="323.40" x2="28.70" y2="332.60" stroke="#000" stroke-width="1.25" stroke-linecap="round"/>
<line x1="2.30" y1="240.40" x2="28.70" y2="249.70" stroke="#000" stroke-width="1.25" stroke-linecap="round"/>
<text x="533.0" y="641.8" font-size="32.0" font-family="Liberation Serif" textLength="23.0" lengthAdjust="spacingAndGlyphs" font-style="italic">E</text>
<text x="557.1" y="645.0" font-size="22.0" font-family="Liberation Serif" textLength="12.3" lengthAdjust="spacingAndGlyphs" font-style="italic">ν</text>
<text x="585.1" y="641.8" font-size="32.0" font-family="Liberation Serif" textLength="80.1" lengthAdjust="spacingAndGlyphs" >(GeV)</text>
<text x="380.5" y="178.6" font-size="29.0" font-family="Liberation Serif" textLength="19.4" lengthAdjust="spacingAndGlyphs" >Φ</text>
<text x="400.0" y="166.0" font-size="20.0" font-family="Liberation Serif" textLength="10.5" lengthAdjust="spacingAndGlyphs" font-style="italic">ν</text>
<text x="410.5" y="168.5" font-size="14.0" font-family="Liberation Serif" textLength="9.5" lengthAdjust="spacingAndGlyphs" font-style="italic">μ</text>
<text x="402.0" y="183.0" font-size="13.0" font-family="Liberation Serif" textLength="32.7" lengthAdjust="spacingAndGlyphs" >T2K</text>
<text x="442.8" y="183.0" font-size="36.0" font-family="Liberation Serif" >×</text>
<text x="470.9" y="178.6" font-size="29.0" font-family="Liberation Serif" textLength="20.4" lengthAdjust="spacingAndGlyphs" font-style="italic">P</text>
<text x="491.3" y="164.5" font-size="20.0" font-family="Liberation Serif" textLength="10.5" lengthAdjust="spacingAndGlyphs" font-style="italic">ν</text>
<text x="502.4" y="168.0" font-size="14.0" font-family="Liberation Serif" textLength="10.0" lengthAdjust="spacingAndGlyphs" font-style="italic">μ</text>
<text x="513.2" y="164.6" font-size="26.0" font-family="Liberation Serif" textLength="24.0" lengthAdjust="spacingAndGlyphs" >→</text>
<text x="535.6" y="164.5" font-size="20.0" font-family="Liberation Serif" textLength="11.5" lengthAdjust="spacingAndGlyphs" font-style="italic">ν</text>
<text x="547.6" y="168.0" font-size="14.0" font-family="Liberation Serif" textLength="10.5" lengthAdjust="spacingAndGlyphs" font-style="italic">μ</text>
<text x="488.2" y="183.8" font-size="13.0" font-family="Liberation Serif" textLength="32.8" lengthAdjust="spacingAndGlyphs" >Osc.</text>
</svg>
</body></html>
